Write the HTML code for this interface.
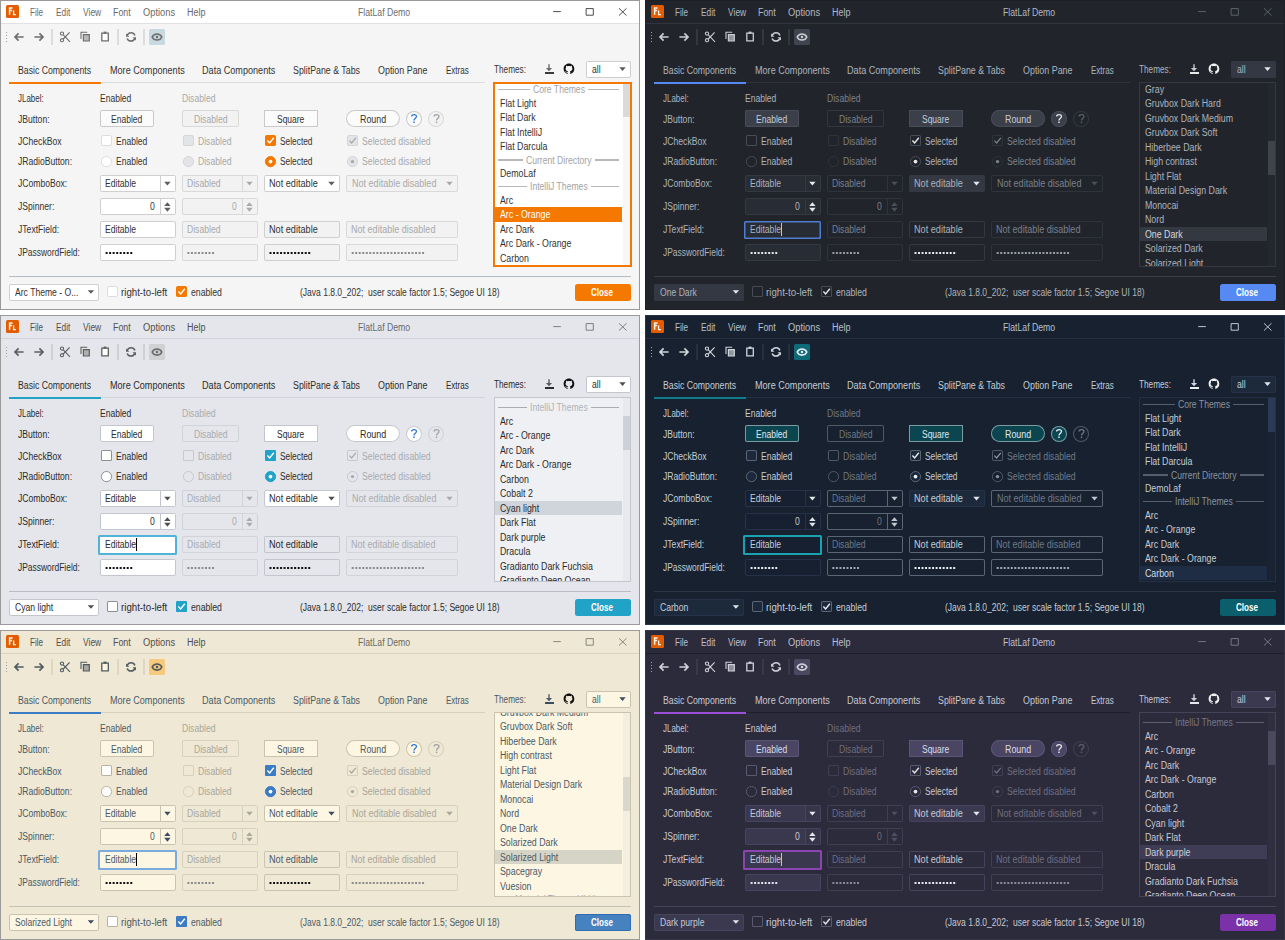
<!DOCTYPE html><html><head><meta charset="utf-8"><title>FlatLaf Demo</title><style>
html,body{margin:0;padding:0;background:#fff;}
body{width:1285px;height:940px;position:relative;overflow:hidden;font-family:"Liberation Sans",sans-serif;}
.p{position:absolute;width:640px;height:310px;overflow:hidden;}
.p div{position:absolute;}
.t{position:absolute;white-space:pre;line-height:1;transform-origin:0 0;}
.ov{position:absolute;left:0;top:0;}
</style></head><body><div class="p" style="left:0px;top:0px;background:#f5f5f5;"><div style="left:0.00px;top:0.00px;width:640.00px;height:24.00px;background:#ffffff;"></div><div style="left:0.00px;top:23.00px;width:640.00px;height:1.00px;background:#dfe1e5;"></div><div style="left:6.00px;top:5.00px;width:13.00px;height:13.00px;background:#e35d00;border-radius:1.5px;"></div><span class="t" style="left:30.40px;top:7.73px;font-size:10.0px;color:#6a6a6a;transform:scaleX(0.813033359193173);">File</span><span class="t" style="left:55.70px;top:7.73px;font-size:10.0px;color:#6a6a6a;transform:scaleX(0.8298875589408778);">Edit</span><span class="t" style="left:82.70px;top:7.73px;font-size:10.0px;color:#6a6a6a;transform:scaleX(0.8467577784239605);">View</span><span class="t" style="left:113.00px;top:7.73px;font-size:10.0px;color:#6a6a6a;transform:scaleX(0.8846544318625537);">Font</span><span class="t" style="left:142.90px;top:7.73px;font-size:10.0px;color:#6a6a6a;transform:scaleX(0.93148945817275);">Options</span><span class="t" style="left:187.00px;top:7.73px;font-size:10.0px;color:#6a6a6a;transform:scaleX(0.8995593374867041);">Help</span><span class="t" style="left:358.20px;top:7.73px;font-size:10.0px;color:#6c6c6c;transform:scaleX(0.868039465805847);">FlatLaf Demo</span><div style="left:6.00px;top:32.00px;width:1.00px;height:1.00px;background:#9b9b9b;"></div><div style="left:6.00px;top:35.00px;width:1.00px;height:1.00px;background:#9b9b9b;"></div><div style="left:6.00px;top:38.00px;width:1.00px;height:1.00px;background:#9b9b9b;"></div><div style="left:6.00px;top:41.00px;width:1.00px;height:1.00px;background:#9b9b9b;"></div><div style="left:51.05px;top:29.30px;width:1.50px;height:15.40px;background:#dcdcdc;"></div><div style="left:117.05px;top:29.30px;width:1.50px;height:15.40px;background:#dcdcdc;"></div><div style="left:143.15px;top:29.30px;width:1.50px;height:15.40px;background:#dcdcdc;"></div><div style="left:148.60px;top:29.10px;width:16.50px;height:15.80px;background:#c8d9df;border-radius:1.5px;"></div><div style="left:9.00px;top:82.00px;width:476.00px;height:1.00px;background:#dcdde0;"></div><div style="left:9.00px;top:82.00px;width:92.00px;height:2.00px;background:#f57900;"></div><span class="t" style="left:18.10px;top:66.23px;font-size:10.0px;color:#333333;transform:scaleX(0.8698080539161841);">Basic Components</span><span class="t" style="left:109.60px;top:66.23px;font-size:10.0px;color:#333333;transform:scaleX(0.9081549303801075);">More Components</span><span class="t" style="left:202.00px;top:66.23px;font-size:10.0px;color:#333333;transform:scaleX(0.9094821736685988);">Data Components</span><span class="t" style="left:292.90px;top:66.23px;font-size:10.0px;color:#333333;transform:scaleX(0.881887172737182);">SplitPane &amp; Tabs</span><span class="t" style="left:377.80px;top:66.23px;font-size:10.0px;color:#333333;transform:scaleX(0.8904128840046094);">Option Pane</span><span class="t" style="left:445.50px;top:66.23px;font-size:10.0px;color:#333333;transform:scaleX(0.8010145007443348);">Extras</span><span class="t" style="left:494.30px;top:65.03px;font-size:10.0px;color:#333333;transform:scaleX(0.8226551516368749);">Themes:</span><div style="left:544.50px;top:72.10px;width:9.10px;height:1.60px;background:#3a3a3a;"></div><div style="left:586.00px;top:61.00px;width:45.00px;height:17.00px;background:#ffffff;box-shadow:inset 0 0 0 1px #cfcfcf;border-radius:2px;"></div><span class="t" style="left:591.80px;top:64.83px;font-size:10.0px;color:#333333;transform:scaleX(0.86);">all</span><div style="left:494px;top:82px;width:137px;height:185px;background:#ffffff;overflow:hidden;"><div style="left:1px;top:125.40px;width:127px;height:14.5px;background:#f57900;"></div><div style="left:4.00px;top:6.95px;width:31.53px;height:1.4px;background:#b8b8b8;"></div><div style="left:93.87px;top:6.95px;width:31.53px;height:1.4px;background:#b8b8b8;"></div><span class="t" style="left:38.73px;top:3.29px;font-size:10.0px;color:#a3a3a3;transform:scaleX(0.86);">Core Themes</span><span class="t" style="left:5.70px;top:16.84px;font-size:10.0px;color:#333333;transform:scaleX(0.88);">Flat Light</span><span class="t" style="left:5.70px;top:31.34px;font-size:10.0px;color:#333333;transform:scaleX(0.88);">Flat Dark</span><span class="t" style="left:5.70px;top:45.83px;font-size:10.0px;color:#333333;transform:scaleX(0.88);">Flat IntelliJ</span><span class="t" style="left:5.70px;top:60.33px;font-size:10.0px;color:#333333;transform:scaleX(0.88);">Flat Darcula</span><div style="left:4.00px;top:77.25px;width:24.77px;height:1.4px;background:#b8b8b8;"></div><div style="left:100.63px;top:77.25px;width:24.77px;height:1.4px;background:#b8b8b8;"></div><span class="t" style="left:31.97px;top:73.59px;font-size:10.0px;color:#a3a3a3;transform:scaleX(0.86);">Current Directory</span><span class="t" style="left:5.70px;top:87.13px;font-size:10.0px;color:#333333;transform:scaleX(0.88);">DemoLaf</span><div style="left:4.00px;top:104.05px;width:28.66px;height:1.4px;background:#b8b8b8;"></div><div style="left:96.74px;top:104.05px;width:28.66px;height:1.4px;background:#b8b8b8;"></div><span class="t" style="left:35.86px;top:100.39px;font-size:10.0px;color:#a3a3a3;transform:scaleX(0.86);">IntelliJ Themes</span><span class="t" style="left:5.70px;top:113.93px;font-size:10.0px;color:#333333;transform:scaleX(0.88);">Arc</span><span class="t" style="left:5.70px;top:128.43px;font-size:10.0px;color:#ffffff;transform:scaleX(0.88);">Arc - Orange</span><span class="t" style="left:5.70px;top:142.93px;font-size:10.0px;color:#333333;transform:scaleX(0.88);">Arc Dark</span><span class="t" style="left:5.70px;top:157.43px;font-size:10.0px;color:#333333;transform:scaleX(0.88);">Arc Dark - Orange</span><span class="t" style="left:5.70px;top:171.93px;font-size:10.0px;color:#333333;transform:scaleX(0.88);">Carbon</span><span class="t" style="left:5.70px;top:186.43px;font-size:10.0px;color:#333333;transform:scaleX(0.88);">Cobalt 2</span><span class="t" style="left:5.70px;top:200.93px;font-size:10.0px;color:#333333;transform:scaleX(0.88);">Cyan light</span><div style="left:128.5px;top:1px;width:8px;height:183px;background:#f7f7f7;"></div><div style="left:128.5px;top:1.40px;width:7.5px;height:34px;background:#dadada;"></div></div><div style="left:493.00px;top:82.00px;width:139.00px;height:185.00px;box-shadow:inset 0 0 0 2px #f57900;"></div><span class="t" style="left:17.50px;top:94.23px;font-size:10.0px;color:#333333;transform:scaleX(0.7939523163403761);">JLabel:</span><span class="t" style="left:17.50px;top:114.73px;font-size:10.0px;color:#333333;transform:scaleX(0.86);">JButton:</span><span class="t" style="left:17.50px;top:136.73px;font-size:10.0px;color:#333333;transform:scaleX(0.86);">JCheckBox</span><span class="t" style="left:17.50px;top:157.23px;font-size:10.0px;color:#333333;transform:scaleX(0.86);">JRadioButton:</span><span class="t" style="left:17.50px;top:179.23px;font-size:10.0px;color:#333333;transform:scaleX(0.86);">JComboBox:</span><span class="t" style="left:17.50px;top:202.23px;font-size:10.0px;color:#333333;transform:scaleX(0.86);">JSpinner:</span><span class="t" style="left:17.50px;top:225.23px;font-size:10.0px;color:#333333;transform:scaleX(0.86);">JTextField:</span><span class="t" style="left:17.50px;top:248.23px;font-size:10.0px;color:#333333;transform:scaleX(0.8424640027264206);">JPasswordField:</span><span class="t" style="left:99.70px;top:94.23px;font-size:10.0px;color:#333333;transform:scaleX(0.8529336626075109);">Enabled</span><span class="t" style="left:181.90px;top:94.23px;font-size:10.0px;color:#a9a9a9;transform:scaleX(0.86);">Disabled</span><div style="left:100.00px;top:110.00px;width:54.00px;height:17.00px;background:#fbfbfc;box-shadow:inset 0 0 0 1px #c9c9c9;border-radius:2px;"></div><span class="t" style="left:111.10px;top:114.73px;font-size:10.0px;color:#333333;transform:scaleX(0.8529336626075109);">Enabled</span><div style="left:182.00px;top:110.00px;width:57.00px;height:17.00px;background:#f2f2f2;box-shadow:inset 0 0 0 1px #d9d9d9;border-radius:2px;"></div><span class="t" style="left:193.52px;top:114.73px;font-size:10.0px;color:#a9a9a9;transform:scaleX(0.86);">Disabled</span><div style="left:264.00px;top:110.00px;width:54.00px;height:17.00px;background:#fbfbfc;box-shadow:inset 0 0 0 1px #c9c9c9;"></div><span class="t" style="left:277.05px;top:114.73px;font-size:10.0px;color:#333333;transform:scaleX(0.8466757123473542);">Square</span><div style="left:346.00px;top:110.00px;width:54.00px;height:17.00px;background:#fbfbfc;box-shadow:inset 0 0 0 1px #c9c9c9;border-radius:9px;"></div><span class="t" style="left:359.55px;top:114.73px;font-size:10.0px;color:#333333;transform:scaleX(0.8891717043164704);">Round</span><div style="left:406.00px;top:111.00px;width:16.00px;height:16.00px;background:#fbfbfc;box-shadow:inset 0 0 0 1px #c9c9c9;border-radius:8px;"></div><div style="left:428.00px;top:111.00px;width:16.00px;height:16.00px;background:#f2f2f2;box-shadow:inset 0 0 0 1px #d9d9d9;border-radius:8px;"></div><div style="left:101.00px;top:135.00px;width:11.00px;height:11.00px;background:#ffffff;box-shadow:inset 0 0 0 1px #dcdde0;border-radius:2.5px;"></div><span class="t" style="left:115.70px;top:136.73px;font-size:10.0px;color:#333333;transform:scaleX(0.8529336626075109);">Enabled</span><div style="left:183.00px;top:135.00px;width:11.00px;height:11.00px;background:#e3e4e7;box-shadow:inset 0 0 0 1px #d5d6d9;border-radius:2.5px;"></div><span class="t" style="left:198.00px;top:136.73px;font-size:10.0px;color:#a9a9a9;transform:scaleX(0.86);">Disabled</span><div style="left:265.00px;top:135.00px;width:11.00px;height:11.00px;background:#f57900;box-shadow:inset 0 0 0 1px #f57900;border-radius:2.5px;"></div><span class="t" style="left:279.70px;top:136.73px;font-size:10.0px;color:#333333;transform:scaleX(0.835173659907649);">Selected</span><div style="left:347.00px;top:135.00px;width:11.00px;height:11.00px;background:#e3e4e7;box-shadow:inset 0 0 0 1px #d5d6d9;border-radius:2.5px;"></div><span class="t" style="left:361.50px;top:136.73px;font-size:10.0px;color:#a9a9a9;transform:scaleX(0.870274335932861);">Selected disabled</span><span class="t" style="left:115.70px;top:157.23px;font-size:10.0px;color:#333333;transform:scaleX(0.8529336626075109);">Enabled</span><span class="t" style="left:198.00px;top:157.23px;font-size:10.0px;color:#a9a9a9;transform:scaleX(0.86);">Disabled</span><span class="t" style="left:279.70px;top:157.23px;font-size:10.0px;color:#333333;transform:scaleX(0.835173659907649);">Selected</span><span class="t" style="left:361.50px;top:157.23px;font-size:10.0px;color:#a9a9a9;transform:scaleX(0.870274335932861);">Selected disabled</span><div style="left:100.00px;top:175.00px;width:76.00px;height:17.00px;background:#ffffff;box-shadow:inset 0 0 0 1px #cfcfcf;border-radius:2px;"></div><div style="left:160.00px;top:176.00px;width:15.00px;height:15.00px;background:#ffffff;"></div><div style="left:160.00px;top:176.00px;width:1.00px;height:15.00px;background:#cfcfcf;"></div><span class="t" style="left:105.00px;top:179.23px;font-size:10.0px;color:#333333;transform:scaleX(0.8606390798633633);">Editable</span><div style="left:182.00px;top:175.00px;width:76.00px;height:17.00px;background:#f2f2f2;box-shadow:inset 0 0 0 1px #d9d9d9;border-radius:2px;"></div><div style="left:242.00px;top:176.00px;width:15.00px;height:15.00px;background:#f2f2f2;"></div><div style="left:242.00px;top:176.00px;width:1.00px;height:15.00px;background:#d9d9d9;"></div><span class="t" style="left:187.20px;top:179.23px;font-size:10.0px;color:#a9a9a9;transform:scaleX(0.86);">Disabled</span><div style="left:264.00px;top:175.00px;width:76.00px;height:17.00px;background:#ffffff;box-shadow:inset 0 0 0 1px #cfcfcf;border-radius:2px;"></div><span class="t" style="left:269.40px;top:179.23px;font-size:10.0px;color:#333333;transform:scaleX(0.9144463313228318);">Not editable</span><div style="left:346.00px;top:175.00px;width:112.00px;height:17.00px;background:#f2f2f2;box-shadow:inset 0 0 0 1px #d9d9d9;border-radius:2px;"></div><span class="t" style="left:351.60px;top:179.23px;font-size:10.0px;color:#a9a9a9;transform:scaleX(0.9037158488230078);">Not editable disabled</span><div style="left:100.00px;top:198.00px;width:76.00px;height:17.00px;background:#ffffff;box-shadow:inset 0 0 0 1px #cfcfcf;border-radius:2px;"></div><div style="left:160.00px;top:199.00px;width:15.00px;height:15.00px;background:#ffffff;"></div><div style="left:160.00px;top:199.00px;width:1.00px;height:15.00px;background:#cfcfcf;"></div><span class="t" style="left:149.62px;top:202.23px;font-size:10.0px;color:#333333;transform:scaleX(0.86);">0</span><div style="left:182.00px;top:198.00px;width:76.00px;height:17.00px;background:#f2f2f2;box-shadow:inset 0 0 0 1px #d9d9d9;border-radius:2px;"></div><div style="left:242.00px;top:199.00px;width:15.00px;height:15.00px;background:#f2f2f2;"></div><div style="left:242.00px;top:199.00px;width:1.00px;height:15.00px;background:#d9d9d9;"></div><span class="t" style="left:231.62px;top:202.23px;font-size:10.0px;color:#a9a9a9;transform:scaleX(0.86);">0</span><div style="left:100.00px;top:221.00px;width:76.00px;height:17.00px;background:#ffffff;box-shadow:inset 0 0 0 1px #cfcfcf;border-radius:2px;"></div><span class="t" style="left:105.10px;top:225.23px;font-size:10.0px;color:#333333;transform:scaleX(0.8606390798633633);">Editable</span><div style="left:182.00px;top:221.00px;width:76.00px;height:17.00px;background:#f2f2f2;box-shadow:inset 0 0 0 1px #d9d9d9;border-radius:2px;"></div><span class="t" style="left:187.20px;top:225.23px;font-size:10.0px;color:#a9a9a9;transform:scaleX(0.86);">Disabled</span><div style="left:264.00px;top:221.00px;width:76.00px;height:17.00px;background:#f2f2f2;box-shadow:inset 0 0 0 1px #cfcfcf;border-radius:2px;"></div><span class="t" style="left:269.20px;top:225.23px;font-size:10.0px;color:#333333;transform:scaleX(0.9144463313228318);">Not editable</span><div style="left:346.00px;top:221.00px;width:112.00px;height:17.00px;background:#f2f2f2;box-shadow:inset 0 0 0 1px #d9d9d9;border-radius:2px;"></div><span class="t" style="left:351.20px;top:225.23px;font-size:10.0px;color:#a9a9a9;transform:scaleX(0.9037158488230078);">Not editable disabled</span><div style="left:100.00px;top:244.00px;width:76.00px;height:17.00px;background:#ffffff;box-shadow:inset 0 0 0 1px #cfcfcf;border-radius:2px;"></div><div style="left:182.00px;top:244.00px;width:76.00px;height:17.00px;background:#f2f2f2;box-shadow:inset 0 0 0 1px #d9d9d9;border-radius:2px;"></div><div style="left:264.00px;top:244.00px;width:76.00px;height:17.00px;background:#f2f2f2;box-shadow:inset 0 0 0 1px #cfcfcf;border-radius:2px;"></div><div style="left:346.00px;top:244.00px;width:112.00px;height:17.00px;background:#f2f2f2;box-shadow:inset 0 0 0 1px #d9d9d9;border-radius:2px;"></div><div style="left:9.00px;top:276.00px;width:622.00px;height:1.00px;background:#b4bcc4;"></div><div style="left:9.00px;top:284.00px;width:90.00px;height:17.00px;background:#ffffff;box-shadow:inset 0 0 0 1px #cfcfcf;border-radius:2px;"></div><span class="t" style="left:14.90px;top:288.23px;font-size:10.0px;color:#333333;transform:scaleX(0.86);">Arc Theme - O...</span><div style="left:107.00px;top:286.00px;width:11.00px;height:11.00px;background:#ffffff;box-shadow:inset 0 0 0 1px #dcdde0;border-radius:2.5px;"></div><span class="t" style="left:121.20px;top:288.23px;font-size:10.0px;color:#333333;transform:scaleX(0.9688409350989047);">right-to-left</span><div style="left:176.00px;top:286.00px;width:11.00px;height:11.00px;background:#f57900;box-shadow:inset 0 0 0 1px #f57900;border-radius:2.5px;"></div><span class="t" style="left:190.60px;top:288.23px;font-size:10.0px;color:#333333;transform:scaleX(0.8682824025289778);">enabled</span><span class="t" style="left:299.50px;top:288.23px;font-size:10.0px;color:#333333;transform:scaleX(0.8505195843325339);">(Java 1.8.0_202;  user scale factor 1.5; Segoe UI 18)</span><div style="left:575.00px;top:284.00px;width:56.00px;height:17.00px;background:#f57900;border-radius:2.5px;"></div><span class="t" style="left:591.40px;top:288.23px;font-size:10.0px;color:#ffffff;transform:scaleX(0.8116141619326332);font-weight:bold;">Close</span><div style="left:0.00px;top:0.00px;width:640.00px;height:310.00px;box-shadow:inset 0 0 0 1px #9a9a9a;"></div><svg class="ov" width="640" height="310" viewBox="0 0 640 310"><path d="M9.6 14.8 V7.9 H12.6 M9.6 10.6 H12.1" fill="none" stroke="#fff4ea" stroke-width="1.5" /><path d="M13.6 10.4 V14.6 H15.9" fill="none" stroke="#fff4ea" stroke-width="1.3" /><path d="M553.2 11.6 H560.8" fill="none" stroke="#4a4a4a" stroke-width="1" /><path d="M586.1 8.6 H593.3 V15.2 H586.1 Z" fill="none" stroke="#4a4a4a" stroke-width="1" /><path d="M619 8.3 L626.5 15.5 M626.5 8.3 L619 15.5" fill="none" stroke="#4a4a4a" stroke-width="1" /><path d="M23.6 37 H15 M18.6 33.4 L15 37 L18.6 40.6" fill="none" stroke="#6e6e6e" stroke-width="1.7" /><path d="M34.4 37 H43 M39.4 33.4 L43 37 L39.4 40.6" fill="none" stroke="#6e6e6e" stroke-width="1.7" /><path d="M62 33.6 m-1.6 0 a1.6 1.6 0 1 0 3.2 0 a1.6 1.6 0 1 0 -3.2 0" fill="none" stroke="#6e6e6e" stroke-width="1.1" /><path d="M62 40.2 m-1.6 0 a1.6 1.6 0 1 0 3.2 0 a1.6 1.6 0 1 0 -3.2 0" fill="none" stroke="#6e6e6e" stroke-width="1.1" /><path d="M63.3 34.8 L70 41.8 M63.3 39 L69.6 32.3" fill="none" stroke="#6e6e6e" stroke-width="1.1" /><path d="M81 39 V32.2 H87.2" fill="none" stroke="#6e6e6e" stroke-width="1.1" /><path d="M83.4 34.6 H89.3 V41 H83.4 Z" fill="#b9b9b9" stroke="#6e6e6e" stroke-width="1.2" /><path d="M101.8 33.2 H108.3 V40.9 H101.8 Z" fill="#ffffff" stroke="#6e6e6e" stroke-width="1.3" /><path d="M103.6 31.6 H106.5 V33.6 H103.6 Z" fill="#6e6e6e" /><path d="M134.9 35.4 A4.1 4.1 0 0 0 127.3 35.2 M127.1 38.4 A4.1 4.1 0 0 0 134.7 38.6" fill="none" stroke="#6e6e6e" stroke-width="1.5" /><path d="M126 33.4 V36.8 H129.4 Z" fill="#6e6e6e" /><path d="M136 40.6 V37.2 H132.6 Z" fill="#6e6e6e" /><path d="M152.2 37 C153.9 32.9 160.1 32.9 161.8 37 C160.1 41.1 153.9 41.1 152.2 37 Z" fill="none" stroke="#6e6e6e" stroke-width="1.6" /><path d="M157 37 m-1.25 0 a1.25 1.25 0 1 0 2.5 0 a1.25 1.25 0 1 0 -2.5 0" fill="#6e6e6e" /><path d="M549 64.2 V68.8" fill="none" stroke="#6a6a6a" stroke-width="1.4" /><path d="M545.9 68.1 H552.1 L549 71.2 Z" fill="#6a6a6a" /><path d="M8 0C3.58 0 0 3.58 0 8c0 3.54 2.29 6.53 5.47 7.59.4.07.55-.17.55-.38 0-.19-.01-.82-.01-1.49-2.01.37-2.53-.49-2.69-.94-.09-.23-.48-.94-.82-1.13-.28-.15-.68-.52-.01-.53.63-.01 1.08.58 1.23.82.72 1.21 1.87.87 2.33.66.07-.52.28-.87.51-1.07-1.78-.2-3.640-.89-3.64-3.95 0-.87.31-1.59.82-2.15-.08-.2-.36-1.020.08-2.12 0 0 .67-.21 2.2.82.64-.18 1.32-.27 2-.27.68 0 1.36.09 2 .27 1.53-1.04 2.2-.82 2.2-.82.44 1.1.16 1.92.08 2.12.51.56.82 1.27.82 2.15 0 3.07-1.87 3.75-3.65 3.95.29.25.54.73.54 1.48 0 1.07-.01 1.93-.01 2.200 0 .21.15.46.55.38A8.013 8.013 0 0016 8c0-4.42-3.58-8-8-8z" fill="#111111" transform="translate(563.6 63.5) scale(0.67)"/><path d="M619.30 67.35 H625.70 L622.50 70.95 Z" fill="#5c5c5c" /><path d="M411.60 116.50 C411.60 114.10 416.50 114.10 416.50 116.60 C416.50 118.30 414.00 118.40 414.00 120.60" fill="none" stroke="#2f7ad6" stroke-width="1.3" /><path d="M413.25 121.60 h1.5 v1.5 h-1.5 Z" fill="#2f7ad6" /><path d="M434.10 116.50 C434.10 114.10 439.00 114.10 439.00 116.60 C439.00 118.30 436.50 118.40 436.50 120.60" fill="none" stroke="#a0a0a0" stroke-width="1.3" /><path d="M435.75 121.60 h1.5 v1.5 h-1.5 Z" fill="#a0a0a0" /><path d="M267.4 140.6 L269.6 142.9 L273.8 137.8" fill="none" stroke="#ffffff" stroke-width="1.4" /><path d="M349.4 140.6 L351.6 142.9 L355.8 137.8" fill="none" stroke="#a8a8a8" stroke-width="1.3" /><circle cx="106.5" cy="161.6" r="5.1" fill="#ffffff" stroke="#dcdde0" stroke-width="1"/><circle cx="188.5" cy="161.6" r="5.1" fill="#e3e4e7" stroke="#d5d6d9" stroke-width="1"/><circle cx="270.5" cy="161.6" r="5.1" fill="#f57900" stroke="#f57900" stroke-width="1"/><circle cx="270.5" cy="161.6" r="1.9" fill="#ffffff"/><circle cx="352.5" cy="161.6" r="5.1" fill="#e3e4e7" stroke="#d5d6d9" stroke-width="1"/><circle cx="352.5" cy="161.6" r="1.7" fill="#a8a8a8"/><path d="M164.20 181.80 H170.60 L167.40 185.40 Z" fill="#5c5c5c" /><path d="M246.30 181.80 H252.70 L249.50 185.40 Z" fill="#aaaaaa" /><path d="M328.30 181.80 H334.70 L331.50 185.40 Z" fill="#5c5c5c" /><path d="M446.30 181.80 H452.70 L449.50 185.40 Z" fill="#aaaaaa" /><path d="M164.20 206.1 H170.60 L167.40 202.3 Z" fill="#5c5c5c" /><path d="M164.20 207.8 H170.60 L167.40 211.7 Z" fill="#5c5c5c" /><path d="M246.20 206.1 H252.60 L249.40 202.3 Z" fill="#aaaaaa" /><path d="M246.20 207.8 H252.60 L249.40 211.7 Z" fill="#aaaaaa" /><path d="M105.60 252 h2 v2 h-2 Z M109.12 252 h2 v2 h-2 Z M112.64 252 h2 v2 h-2 Z M116.16 252 h2 v2 h-2 Z M119.68 252 h2 v2 h-2 Z M123.20 252 h2 v2 h-2 Z M126.72 252 h2 v2 h-2 Z M130.24 252 h2 v2 h-2 Z " fill="#111111" /><path d="M187.40 252 h2 v2 h-2 Z M190.92 252 h2 v2 h-2 Z M194.44 252 h2 v2 h-2 Z M197.96 252 h2 v2 h-2 Z M201.48 252 h2 v2 h-2 Z M205.00 252 h2 v2 h-2 Z M208.52 252 h2 v2 h-2 Z M212.04 252 h2 v2 h-2 Z " fill="#8c8c8c" /><path d="M269.50 252 h2 v2 h-2 Z M273.02 252 h2 v2 h-2 Z M276.54 252 h2 v2 h-2 Z M280.06 252 h2 v2 h-2 Z M283.58 252 h2 v2 h-2 Z M287.10 252 h2 v2 h-2 Z M290.62 252 h2 v2 h-2 Z M294.14 252 h2 v2 h-2 Z M297.66 252 h2 v2 h-2 Z M301.18 252 h2 v2 h-2 Z M304.70 252 h2 v2 h-2 Z M308.22 252 h2 v2 h-2 Z " fill="#111111" /><path d="M351.70 252 h2 v2 h-2 Z M355.22 252 h2 v2 h-2 Z M358.74 252 h2 v2 h-2 Z M362.26 252 h2 v2 h-2 Z M365.78 252 h2 v2 h-2 Z M369.30 252 h2 v2 h-2 Z M372.82 252 h2 v2 h-2 Z M376.34 252 h2 v2 h-2 Z M379.86 252 h2 v2 h-2 Z M383.38 252 h2 v2 h-2 Z M386.90 252 h2 v2 h-2 Z M390.42 252 h2 v2 h-2 Z M393.94 252 h2 v2 h-2 Z M397.46 252 h2 v2 h-2 Z M400.98 252 h2 v2 h-2 Z M404.50 252 h2 v2 h-2 Z M408.02 252 h2 v2 h-2 Z M411.54 252 h2 v2 h-2 Z M415.06 252 h2 v2 h-2 Z M418.58 252 h2 v2 h-2 Z M422.10 252 h2 v2 h-2 Z " fill="#8c8c8c" /><path d="M87.70 290.20 H94.10 L90.90 293.80 Z" fill="#5c5c5c" /><path d="M178.4 291.6 L180.6 293.9 L184.8 288.8" fill="none" stroke="#ffffff" stroke-width="1.4" /></svg></div><div class="p" style="left:645px;top:0px;background:#21252b;"><div style="left:0.00px;top:0.00px;width:640.00px;height:24.00px;background:#21252b;"></div><div style="left:0.00px;top:23.00px;width:640.00px;height:1.00px;background:#31353d;"></div><div style="left:6.00px;top:5.00px;width:13.00px;height:13.00px;background:#e35d00;border-radius:1.5px;"></div><span class="t" style="left:30.40px;top:7.73px;font-size:10.0px;color:#b2b7c0;transform:scaleX(0.813033359193173);">File</span><span class="t" style="left:55.70px;top:7.73px;font-size:10.0px;color:#b2b7c0;transform:scaleX(0.8298875589408778);">Edit</span><span class="t" style="left:82.70px;top:7.73px;font-size:10.0px;color:#b2b7c0;transform:scaleX(0.8467577784239605);">View</span><span class="t" style="left:113.00px;top:7.73px;font-size:10.0px;color:#b2b7c0;transform:scaleX(0.8846544318625537);">Font</span><span class="t" style="left:142.90px;top:7.73px;font-size:10.0px;color:#b2b7c0;transform:scaleX(0.93148945817275);">Options</span><span class="t" style="left:187.00px;top:7.73px;font-size:10.0px;color:#b2b7c0;transform:scaleX(0.8995593374867041);">Help</span><span class="t" style="left:358.20px;top:7.73px;font-size:10.0px;color:#b2b7c0;transform:scaleX(0.868039465805847);">FlatLaf Demo</span><div style="left:6.00px;top:32.00px;width:1.00px;height:1.00px;background:#9a9ea6;"></div><div style="left:6.00px;top:35.00px;width:1.00px;height:1.00px;background:#9a9ea6;"></div><div style="left:6.00px;top:38.00px;width:1.00px;height:1.00px;background:#9a9ea6;"></div><div style="left:6.00px;top:41.00px;width:1.00px;height:1.00px;background:#9a9ea6;"></div><div style="left:51.05px;top:29.30px;width:1.50px;height:15.40px;background:#33373e;"></div><div style="left:117.05px;top:29.30px;width:1.50px;height:15.40px;background:#33373e;"></div><div style="left:143.15px;top:29.30px;width:1.50px;height:15.40px;background:#33373e;"></div><div style="left:148.60px;top:29.10px;width:16.50px;height:15.80px;background:#3f444e;border-radius:1.5px;"></div><div style="left:9.00px;top:82.00px;width:476.00px;height:1.00px;background:#2f333a;"></div><div style="left:9.00px;top:82.00px;width:92.00px;height:2.00px;background:#568af2;"></div><span class="t" style="left:18.10px;top:66.23px;font-size:10.0px;color:#adb3bd;transform:scaleX(0.8698080539161841);">Basic Components</span><span class="t" style="left:109.60px;top:66.23px;font-size:10.0px;color:#adb3bd;transform:scaleX(0.9081549303801075);">More Components</span><span class="t" style="left:202.00px;top:66.23px;font-size:10.0px;color:#adb3bd;transform:scaleX(0.9094821736685988);">Data Components</span><span class="t" style="left:292.90px;top:66.23px;font-size:10.0px;color:#adb3bd;transform:scaleX(0.881887172737182);">SplitPane &amp; Tabs</span><span class="t" style="left:377.80px;top:66.23px;font-size:10.0px;color:#adb3bd;transform:scaleX(0.8904128840046094);">Option Pane</span><span class="t" style="left:445.50px;top:66.23px;font-size:10.0px;color:#adb3bd;transform:scaleX(0.8010145007443348);">Extras</span><span class="t" style="left:494.30px;top:65.03px;font-size:10.0px;color:#adb3bd;transform:scaleX(0.8226551516368749);">Themes:</span><div style="left:544.50px;top:72.10px;width:9.10px;height:1.60px;background:#e6e8ea;"></div><div style="left:586.00px;top:61.00px;width:45.00px;height:17.00px;background:#343842;box-shadow:inset 0 0 0 1px #333841;border-radius:2px;"></div><span class="t" style="left:591.80px;top:64.83px;font-size:10.0px;color:#adb3bd;transform:scaleX(0.86);">all</span><div style="left:494px;top:82px;width:137px;height:185px;background:#21252b;overflow:hidden;"><div style="left:1px;top:144.70px;width:127px;height:14.5px;background:#333841;"></div><span class="t" style="left:5.70px;top:-11.76px;font-size:10.0px;color:#adb3bd;transform:scaleX(0.88);">Gradianto Nature Green</span><span class="t" style="left:5.70px;top:2.74px;font-size:10.0px;color:#adb3bd;transform:scaleX(0.88);">Gray</span><span class="t" style="left:5.70px;top:17.24px;font-size:10.0px;color:#adb3bd;transform:scaleX(0.88);">Gruvbox Dark Hard</span><span class="t" style="left:5.70px;top:31.74px;font-size:10.0px;color:#adb3bd;transform:scaleX(0.88);">Gruvbox Dark Medium</span><span class="t" style="left:5.70px;top:46.24px;font-size:10.0px;color:#adb3bd;transform:scaleX(0.88);">Gruvbox Dark Soft</span><span class="t" style="left:5.70px;top:60.74px;font-size:10.0px;color:#adb3bd;transform:scaleX(0.88);">Hiberbee Dark</span><span class="t" style="left:5.70px;top:75.24px;font-size:10.0px;color:#adb3bd;transform:scaleX(0.88);">High contrast</span><span class="t" style="left:5.70px;top:89.74px;font-size:10.0px;color:#adb3bd;transform:scaleX(0.88);">Light Flat</span><span class="t" style="left:5.70px;top:104.24px;font-size:10.0px;color:#adb3bd;transform:scaleX(0.88);">Material Design Dark</span><span class="t" style="left:5.70px;top:118.74px;font-size:10.0px;color:#adb3bd;transform:scaleX(0.88);">Monocai</span><span class="t" style="left:5.70px;top:133.24px;font-size:10.0px;color:#adb3bd;transform:scaleX(0.88);">Nord</span><span class="t" style="left:5.70px;top:147.74px;font-size:10.0px;color:#d5d9df;transform:scaleX(0.88);">One Dark</span><span class="t" style="left:5.70px;top:162.24px;font-size:10.0px;color:#adb3bd;transform:scaleX(0.88);">Solarized Dark</span><span class="t" style="left:5.70px;top:176.74px;font-size:10.0px;color:#adb3bd;transform:scaleX(0.88);">Solarized Light</span><span class="t" style="left:5.70px;top:191.24px;font-size:10.0px;color:#adb3bd;transform:scaleX(0.88);">Spacegray</span><div style="left:128.5px;top:1px;width:8px;height:183px;background:#23272e;"></div><div style="left:128.5px;top:58.58px;width:7.5px;height:34px;background:#3e434c;"></div></div><div style="left:494.00px;top:82.00px;width:137.00px;height:185.00px;box-shadow:inset 0 0 0 1px #333841;"></div><span class="t" style="left:17.50px;top:94.23px;font-size:10.0px;color:#adb3bd;transform:scaleX(0.7939523163403761);">JLabel:</span><span class="t" style="left:17.50px;top:114.73px;font-size:10.0px;color:#adb3bd;transform:scaleX(0.86);">JButton:</span><span class="t" style="left:17.50px;top:136.73px;font-size:10.0px;color:#adb3bd;transform:scaleX(0.86);">JCheckBox</span><span class="t" style="left:17.50px;top:157.23px;font-size:10.0px;color:#adb3bd;transform:scaleX(0.86);">JRadioButton:</span><span class="t" style="left:17.50px;top:179.23px;font-size:10.0px;color:#adb3bd;transform:scaleX(0.86);">JComboBox:</span><span class="t" style="left:17.50px;top:202.23px;font-size:10.0px;color:#adb3bd;transform:scaleX(0.86);">JSpinner:</span><span class="t" style="left:17.50px;top:225.23px;font-size:10.0px;color:#adb3bd;transform:scaleX(0.86);">JTextField:</span><span class="t" style="left:17.50px;top:248.23px;font-size:10.0px;color:#adb3bd;transform:scaleX(0.8424640027264206);">JPasswordField:</span><span class="t" style="left:99.70px;top:94.23px;font-size:10.0px;color:#adb3bd;transform:scaleX(0.8529336626075109);">Enabled</span><span class="t" style="left:181.90px;top:94.23px;font-size:10.0px;color:#7b808a;transform:scaleX(0.86);">Disabled</span><div style="left:100.00px;top:110.00px;width:54.00px;height:17.00px;background:#3a3f4a;box-shadow:inset 0 0 0 1px #474c57;border-radius:2px;"></div><span class="t" style="left:111.10px;top:114.73px;font-size:10.0px;color:#c8ccd3;transform:scaleX(0.8529336626075109);">Enabled</span><div style="left:182.00px;top:110.00px;width:57.00px;height:17.00px;background:#21252b;box-shadow:inset 0 0 0 1px #333840;border-radius:2px;"></div><span class="t" style="left:193.52px;top:114.73px;font-size:10.0px;color:#7b808a;transform:scaleX(0.86);">Disabled</span><div style="left:264.00px;top:110.00px;width:54.00px;height:17.00px;background:#3a3f4a;box-shadow:inset 0 0 0 1px #474c57;"></div><span class="t" style="left:277.05px;top:114.73px;font-size:10.0px;color:#c8ccd3;transform:scaleX(0.8466757123473542);">Square</span><div style="left:346.00px;top:110.00px;width:54.00px;height:17.00px;background:#3a3f4a;box-shadow:inset 0 0 0 1px #474c57;border-radius:9px;"></div><span class="t" style="left:359.55px;top:114.73px;font-size:10.0px;color:#c8ccd3;transform:scaleX(0.8891717043164704);">Round</span><div style="left:406.00px;top:111.00px;width:16.00px;height:16.00px;background:#3a3f4a;box-shadow:inset 0 0 0 1px #474c57;border-radius:8px;"></div><div style="left:428.00px;top:111.00px;width:16.00px;height:16.00px;background:#21252b;box-shadow:inset 0 0 0 1px #333840;border-radius:8px;"></div><div style="left:101.00px;top:135.00px;width:11.00px;height:11.00px;background:#21252b;box-shadow:inset 0 0 0 1px #464b54;border-radius:1.5px;"></div><span class="t" style="left:115.70px;top:136.73px;font-size:10.0px;color:#adb3bd;transform:scaleX(0.8529336626075109);">Enabled</span><div style="left:183.00px;top:135.00px;width:11.00px;height:11.00px;background:#21252b;box-shadow:inset 0 0 0 1px #2f333a;border-radius:1.5px;"></div><span class="t" style="left:198.00px;top:136.73px;font-size:10.0px;color:#7b808a;transform:scaleX(0.86);">Disabled</span><div style="left:265.00px;top:135.00px;width:11.00px;height:11.00px;background:#21252b;box-shadow:inset 0 0 0 1px #464b54;border-radius:1.5px;"></div><span class="t" style="left:279.70px;top:136.73px;font-size:10.0px;color:#adb3bd;transform:scaleX(0.835173659907649);">Selected</span><div style="left:347.00px;top:135.00px;width:11.00px;height:11.00px;background:#21252b;box-shadow:inset 0 0 0 1px #2f333a;border-radius:1.5px;"></div><span class="t" style="left:361.50px;top:136.73px;font-size:10.0px;color:#7b808a;transform:scaleX(0.870274335932861);">Selected disabled</span><span class="t" style="left:115.70px;top:157.23px;font-size:10.0px;color:#adb3bd;transform:scaleX(0.8529336626075109);">Enabled</span><span class="t" style="left:198.00px;top:157.23px;font-size:10.0px;color:#7b808a;transform:scaleX(0.86);">Disabled</span><span class="t" style="left:279.70px;top:157.23px;font-size:10.0px;color:#adb3bd;transform:scaleX(0.835173659907649);">Selected</span><span class="t" style="left:361.50px;top:157.23px;font-size:10.0px;color:#7b808a;transform:scaleX(0.870274335932861);">Selected disabled</span><div style="left:100.00px;top:175.00px;width:76.00px;height:17.00px;background:#282c34;box-shadow:inset 0 0 0 1px #333841;border-radius:2px;"></div><div style="left:160.00px;top:176.00px;width:15.00px;height:15.00px;background:#282c34;"></div><div style="left:160.00px;top:176.00px;width:1.00px;height:15.00px;background:#333841;"></div><span class="t" style="left:105.00px;top:179.23px;font-size:10.0px;color:#adb3bd;transform:scaleX(0.8606390798633633);">Editable</span><div style="left:182.00px;top:175.00px;width:76.00px;height:17.00px;background:#21252b;box-shadow:inset 0 0 0 1px #2f333a;border-radius:2px;"></div><div style="left:242.00px;top:176.00px;width:15.00px;height:15.00px;background:#21252b;"></div><div style="left:242.00px;top:176.00px;width:1.00px;height:15.00px;background:#2f333a;"></div><span class="t" style="left:187.20px;top:179.23px;font-size:10.0px;color:#7b808a;transform:scaleX(0.86);">Disabled</span><div style="left:264.00px;top:175.00px;width:76.00px;height:17.00px;background:#343842;box-shadow:inset 0 0 0 1px #333841;border-radius:2px;"></div><span class="t" style="left:269.40px;top:179.23px;font-size:10.0px;color:#adb3bd;transform:scaleX(0.9144463313228318);">Not editable</span><div style="left:346.00px;top:175.00px;width:112.00px;height:17.00px;background:#21252b;box-shadow:inset 0 0 0 1px #2f333a;border-radius:2px;"></div><span class="t" style="left:351.60px;top:179.23px;font-size:10.0px;color:#7b808a;transform:scaleX(0.9037158488230078);">Not editable disabled</span><div style="left:100.00px;top:198.00px;width:76.00px;height:17.00px;background:#282c34;box-shadow:inset 0 0 0 1px #333841;border-radius:2px;"></div><div style="left:160.00px;top:199.00px;width:15.00px;height:15.00px;background:#282c34;"></div><div style="left:160.00px;top:199.00px;width:1.00px;height:15.00px;background:#333841;"></div><span class="t" style="left:149.62px;top:202.23px;font-size:10.0px;color:#adb3bd;transform:scaleX(0.86);">0</span><div style="left:182.00px;top:198.00px;width:76.00px;height:17.00px;background:#21252b;box-shadow:inset 0 0 0 1px #2f333a;border-radius:2px;"></div><div style="left:242.00px;top:199.00px;width:15.00px;height:15.00px;background:#21252b;"></div><div style="left:242.00px;top:199.00px;width:1.00px;height:15.00px;background:#2f333a;"></div><span class="t" style="left:231.62px;top:202.23px;font-size:10.0px;color:#7b808a;transform:scaleX(0.86);">0</span><div style="left:99.00px;top:221.00px;width:77.00px;height:18.00px;background:#282c34;box-shadow:inset 0 0 0 1.5px #4f7dd0;border-radius:1.5px;"></div><span class="t" style="left:105.10px;top:225.23px;font-size:10.0px;color:#adb3bd;transform:scaleX(0.8606390798633633);">Editable</span><div style="left:136.20px;top:223.40px;width:1.20px;height:12.60px;background:#c0c4ca;"></div><div style="left:182.00px;top:221.00px;width:76.00px;height:17.00px;background:#21252b;box-shadow:inset 0 0 0 1px #2f333a;border-radius:2px;"></div><span class="t" style="left:187.20px;top:225.23px;font-size:10.0px;color:#7b808a;transform:scaleX(0.86);">Disabled</span><div style="left:264.00px;top:221.00px;width:76.00px;height:17.00px;background:#21252b;box-shadow:inset 0 0 0 1px #333841;border-radius:2px;"></div><span class="t" style="left:269.20px;top:225.23px;font-size:10.0px;color:#adb3bd;transform:scaleX(0.9144463313228318);">Not editable</span><div style="left:346.00px;top:221.00px;width:112.00px;height:17.00px;background:#21252b;box-shadow:inset 0 0 0 1px #2f333a;border-radius:2px;"></div><span class="t" style="left:351.20px;top:225.23px;font-size:10.0px;color:#7b808a;transform:scaleX(0.9037158488230078);">Not editable disabled</span><div style="left:100.00px;top:244.00px;width:76.00px;height:17.00px;background:#282c34;box-shadow:inset 0 0 0 1px #333841;border-radius:2px;"></div><div style="left:182.00px;top:244.00px;width:76.00px;height:17.00px;background:#21252b;box-shadow:inset 0 0 0 1px #2f333a;border-radius:2px;"></div><div style="left:264.00px;top:244.00px;width:76.00px;height:17.00px;background:#21252b;box-shadow:inset 0 0 0 1px #333841;border-radius:2px;"></div><div style="left:346.00px;top:244.00px;width:112.00px;height:17.00px;background:#21252b;box-shadow:inset 0 0 0 1px #2f333a;border-radius:2px;"></div><div style="left:9.00px;top:276.00px;width:622.00px;height:1.00px;background:#3a3f48;"></div><div style="left:9.00px;top:284.00px;width:90.00px;height:17.00px;background:#343842;box-shadow:inset 0 0 0 1px #333841;border-radius:2px;"></div><span class="t" style="left:14.90px;top:288.23px;font-size:10.0px;color:#adb3bd;transform:scaleX(0.86);">One Dark</span><div style="left:107.00px;top:286.00px;width:11.00px;height:11.00px;background:#21252b;box-shadow:inset 0 0 0 1px #464b54;border-radius:1.5px;"></div><span class="t" style="left:121.20px;top:288.23px;font-size:10.0px;color:#adb3bd;transform:scaleX(0.9688409350989047);">right-to-left</span><div style="left:176.00px;top:286.00px;width:11.00px;height:11.00px;background:#21252b;box-shadow:inset 0 0 0 1px #464b54;border-radius:1.5px;"></div><span class="t" style="left:190.60px;top:288.23px;font-size:10.0px;color:#adb3bd;transform:scaleX(0.8682824025289778);">enabled</span><span class="t" style="left:299.50px;top:288.23px;font-size:10.0px;color:#adb3bd;transform:scaleX(0.8505195843325339);">(Java 1.8.0_202;  user scale factor 1.5; Segoe UI 18)</span><div style="left:575.00px;top:284.00px;width:56.00px;height:17.00px;background:#568af2;border-radius:2.5px;"></div><span class="t" style="left:591.40px;top:288.23px;font-size:10.0px;color:#ffffff;transform:scaleX(0.8116141619326332);font-weight:bold;">Close</span><div style="left:0.00px;top:0.00px;width:640.00px;height:310.00px;box-shadow:inset 0 0 0 1px #1d2025;"></div><svg class="ov" width="640" height="310" viewBox="0 0 640 310"><path d="M9.6 14.8 V7.9 H12.6 M9.6 10.6 H12.1" fill="none" stroke="#fff4ea" stroke-width="1.5" /><path d="M13.6 10.4 V14.6 H15.9" fill="none" stroke="#fff4ea" stroke-width="1.3" /><path d="M553.2 11.6 H560.8" fill="none" stroke="#5d626b" stroke-width="1" /><path d="M586.1 8.6 H593.3 V15.2 H586.1 Z" fill="none" stroke="#5d626b" stroke-width="1" /><path d="M619 8.3 L626.5 15.5 M626.5 8.3 L619 15.5" fill="none" stroke="#5d626b" stroke-width="1" /><path d="M23.6 37 H15 M18.6 33.4 L15 37 L18.6 40.6" fill="none" stroke="#c9ccd2" stroke-width="1.7" /><path d="M34.4 37 H43 M39.4 33.4 L43 37 L39.4 40.6" fill="none" stroke="#c9ccd2" stroke-width="1.7" /><path d="M62 33.6 m-1.6 0 a1.6 1.6 0 1 0 3.2 0 a1.6 1.6 0 1 0 -3.2 0" fill="none" stroke="#c9ccd2" stroke-width="1.1" /><path d="M62 40.2 m-1.6 0 a1.6 1.6 0 1 0 3.2 0 a1.6 1.6 0 1 0 -3.2 0" fill="none" stroke="#c9ccd2" stroke-width="1.1" /><path d="M63.3 34.8 L70 41.8 M63.3 39 L69.6 32.3" fill="none" stroke="#c9ccd2" stroke-width="1.1" /><path d="M81 39 V32.2 H87.2" fill="none" stroke="#c9ccd2" stroke-width="1.1" /><path d="M83.4 34.6 H89.3 V41 H83.4 Z" fill="#8f939a" stroke="#c9ccd2" stroke-width="1.2" /><path d="M101.8 33.2 H108.3 V40.9 H101.8 Z" fill="#21252b" stroke="#c9ccd2" stroke-width="1.3" /><path d="M103.6 31.6 H106.5 V33.6 H103.6 Z" fill="#c9ccd2" /><path d="M134.9 35.4 A4.1 4.1 0 0 0 127.3 35.2 M127.1 38.4 A4.1 4.1 0 0 0 134.7 38.6" fill="none" stroke="#c9ccd2" stroke-width="1.5" /><path d="M126 33.4 V36.8 H129.4 Z" fill="#c9ccd2" /><path d="M136 40.6 V37.2 H132.6 Z" fill="#c9ccd2" /><path d="M152.2 37 C153.9 32.9 160.1 32.9 161.8 37 C160.1 41.1 153.9 41.1 152.2 37 Z" fill="none" stroke="#c9ccd2" stroke-width="1.6" /><path d="M157 37 m-1.25 0 a1.25 1.25 0 1 0 2.5 0 a1.25 1.25 0 1 0 -2.5 0" fill="#c9ccd2" /><path d="M549 64.2 V68.8" fill="none" stroke="#c8ccd2" stroke-width="1.4" /><path d="M545.9 68.1 H552.1 L549 71.2 Z" fill="#c8ccd2" /><path d="M8 0C3.58 0 0 3.58 0 8c0 3.54 2.29 6.53 5.47 7.59.4.07.55-.17.55-.38 0-.19-.01-.82-.01-1.49-2.01.37-2.53-.49-2.69-.94-.09-.23-.48-.94-.82-1.13-.28-.15-.68-.52-.01-.53.63-.01 1.08.58 1.23.82.72 1.21 1.87.87 2.33.66.07-.52.28-.87.51-1.07-1.78-.2-3.640-.89-3.64-3.95 0-.87.31-1.59.82-2.15-.08-.2-.36-1.020.08-2.12 0 0 .67-.21 2.2.82.64-.18 1.32-.27 2-.27.68 0 1.36.09 2 .27 1.53-1.04 2.2-.82 2.2-.82.44 1.1.16 1.92.08 2.12.51.56.82 1.27.82 2.15 0 3.07-1.87 3.75-3.65 3.95.29.25.54.73.54 1.48 0 1.07-.01 1.93-.01 2.200 0 .21.15.46.55.38A8.013 8.013 0 0016 8c0-4.42-3.58-8-8-8z" fill="#f0f0f0" transform="translate(563.6 63.5) scale(0.67)"/><path d="M619.30 67.35 H625.70 L622.50 70.95 Z" fill="#e6e8ea" /><path d="M411.60 116.50 C411.60 114.10 416.50 114.10 416.50 116.60 C416.50 118.30 414.00 118.40 414.00 120.60" fill="none" stroke="#e6e8ea" stroke-width="1.3" /><path d="M413.25 121.60 h1.5 v1.5 h-1.5 Z" fill="#e6e8ea" /><path d="M434.10 116.50 C434.10 114.10 439.00 114.10 439.00 116.60 C439.00 118.30 436.50 118.40 436.50 120.60" fill="none" stroke="#5a5f68" stroke-width="1.3" /><path d="M435.75 121.60 h1.5 v1.5 h-1.5 Z" fill="#5a5f68" /><path d="M267.4 140.6 L269.6 142.9 L273.8 137.8" fill="none" stroke="#e6e8ea" stroke-width="1.4" /><path d="M349.4 140.6 L351.6 142.9 L355.8 137.8" fill="none" stroke="#7b808a" stroke-width="1.3" /><circle cx="106.5" cy="161.6" r="5.1" fill="#21252b" stroke="#464b54" stroke-width="1"/><circle cx="188.5" cy="161.6" r="5.1" fill="#21252b" stroke="#2f333a" stroke-width="1"/><circle cx="270.5" cy="161.6" r="5.1" fill="#21252b" stroke="#464b54" stroke-width="1"/><circle cx="270.5" cy="161.6" r="1.9" fill="#e6e8ea"/><circle cx="352.5" cy="161.6" r="5.1" fill="#21252b" stroke="#2f333a" stroke-width="1"/><circle cx="352.5" cy="161.6" r="1.7" fill="#7b808a"/><path d="M164.20 181.80 H170.60 L167.40 185.40 Z" fill="#e6e8ea" /><path d="M246.30 181.80 H252.70 L249.50 185.40 Z" fill="#4a4f58" /><path d="M328.30 181.80 H334.70 L331.50 185.40 Z" fill="#e6e8ea" /><path d="M446.30 181.80 H452.70 L449.50 185.40 Z" fill="#4a4f58" /><path d="M164.20 206.1 H170.60 L167.40 202.3 Z" fill="#e6e8ea" /><path d="M164.20 207.8 H170.60 L167.40 211.7 Z" fill="#e6e8ea" /><path d="M246.20 206.1 H252.60 L249.40 202.3 Z" fill="#4a4f58" /><path d="M246.20 207.8 H252.60 L249.40 211.7 Z" fill="#4a4f58" /><path d="M105.60 252 h2 v2 h-2 Z M109.12 252 h2 v2 h-2 Z M112.64 252 h2 v2 h-2 Z M116.16 252 h2 v2 h-2 Z M119.68 252 h2 v2 h-2 Z M123.20 252 h2 v2 h-2 Z M126.72 252 h2 v2 h-2 Z M130.24 252 h2 v2 h-2 Z " fill="#e6e8ea" /><path d="M187.40 252 h2 v2 h-2 Z M190.92 252 h2 v2 h-2 Z M194.44 252 h2 v2 h-2 Z M197.96 252 h2 v2 h-2 Z M201.48 252 h2 v2 h-2 Z M205.00 252 h2 v2 h-2 Z M208.52 252 h2 v2 h-2 Z M212.04 252 h2 v2 h-2 Z " fill="#9a9ea6" /><path d="M269.50 252 h2 v2 h-2 Z M273.02 252 h2 v2 h-2 Z M276.54 252 h2 v2 h-2 Z M280.06 252 h2 v2 h-2 Z M283.58 252 h2 v2 h-2 Z M287.10 252 h2 v2 h-2 Z M290.62 252 h2 v2 h-2 Z M294.14 252 h2 v2 h-2 Z M297.66 252 h2 v2 h-2 Z M301.18 252 h2 v2 h-2 Z M304.70 252 h2 v2 h-2 Z M308.22 252 h2 v2 h-2 Z " fill="#e6e8ea" /><path d="M351.70 252 h2 v2 h-2 Z M355.22 252 h2 v2 h-2 Z M358.74 252 h2 v2 h-2 Z M362.26 252 h2 v2 h-2 Z M365.78 252 h2 v2 h-2 Z M369.30 252 h2 v2 h-2 Z M372.82 252 h2 v2 h-2 Z M376.34 252 h2 v2 h-2 Z M379.86 252 h2 v2 h-2 Z M383.38 252 h2 v2 h-2 Z M386.90 252 h2 v2 h-2 Z M390.42 252 h2 v2 h-2 Z M393.94 252 h2 v2 h-2 Z M397.46 252 h2 v2 h-2 Z M400.98 252 h2 v2 h-2 Z M404.50 252 h2 v2 h-2 Z M408.02 252 h2 v2 h-2 Z M411.54 252 h2 v2 h-2 Z M415.06 252 h2 v2 h-2 Z M418.58 252 h2 v2 h-2 Z M422.10 252 h2 v2 h-2 Z " fill="#9a9ea6" /><path d="M87.70 290.20 H94.10 L90.90 293.80 Z" fill="#e6e8ea" /><path d="M178.4 291.6 L180.6 293.9 L184.8 288.8" fill="none" stroke="#e6e8ea" stroke-width="1.4" /></svg></div><div class="p" style="left:0px;top:315px;background:#e4e6eb;"><div style="left:0.00px;top:0.00px;width:640.00px;height:24.00px;background:#e4e6eb;"></div><div style="left:0.00px;top:23.00px;width:640.00px;height:1.00px;background:#cfd3da;"></div><div style="left:6.00px;top:5.00px;width:13.00px;height:13.00px;background:#e35d00;border-radius:1.5px;"></div><span class="t" style="left:30.40px;top:7.73px;font-size:10.0px;color:#4f4f4f;transform:scaleX(0.813033359193173);">File</span><span class="t" style="left:55.70px;top:7.73px;font-size:10.0px;color:#4f4f4f;transform:scaleX(0.8298875589408778);">Edit</span><span class="t" style="left:82.70px;top:7.73px;font-size:10.0px;color:#4f4f4f;transform:scaleX(0.8467577784239605);">View</span><span class="t" style="left:113.00px;top:7.73px;font-size:10.0px;color:#4f4f4f;transform:scaleX(0.8846544318625537);">Font</span><span class="t" style="left:142.90px;top:7.73px;font-size:10.0px;color:#4f4f4f;transform:scaleX(0.93148945817275);">Options</span><span class="t" style="left:187.00px;top:7.73px;font-size:10.0px;color:#4f4f4f;transform:scaleX(0.8995593374867041);">Help</span><span class="t" style="left:358.20px;top:7.73px;font-size:10.0px;color:#666a70;transform:scaleX(0.868039465805847);">FlatLaf Demo</span><div style="left:6.00px;top:32.00px;width:1.00px;height:1.00px;background:#9b9b9b;"></div><div style="left:6.00px;top:35.00px;width:1.00px;height:1.00px;background:#9b9b9b;"></div><div style="left:6.00px;top:38.00px;width:1.00px;height:1.00px;background:#9b9b9b;"></div><div style="left:6.00px;top:41.00px;width:1.00px;height:1.00px;background:#9b9b9b;"></div><div style="left:51.05px;top:29.30px;width:1.50px;height:15.40px;background:#cdd0d5;"></div><div style="left:117.05px;top:29.30px;width:1.50px;height:15.40px;background:#cdd0d5;"></div><div style="left:143.15px;top:29.30px;width:1.50px;height:15.40px;background:#cdd0d5;"></div><div style="left:148.60px;top:29.10px;width:16.50px;height:15.80px;background:#cfd1d5;border-radius:1.5px;"></div><div style="left:9.00px;top:82.00px;width:476.00px;height:1.00px;background:#cfd3da;"></div><div style="left:9.00px;top:82.00px;width:92.00px;height:2.00px;background:#21a3c7;"></div><span class="t" style="left:18.10px;top:66.23px;font-size:10.0px;color:#2b2b2b;transform:scaleX(0.8698080539161841);">Basic Components</span><span class="t" style="left:109.60px;top:66.23px;font-size:10.0px;color:#2b2b2b;transform:scaleX(0.9081549303801075);">More Components</span><span class="t" style="left:202.00px;top:66.23px;font-size:10.0px;color:#2b2b2b;transform:scaleX(0.9094821736685988);">Data Components</span><span class="t" style="left:292.90px;top:66.23px;font-size:10.0px;color:#2b2b2b;transform:scaleX(0.881887172737182);">SplitPane &amp; Tabs</span><span class="t" style="left:377.80px;top:66.23px;font-size:10.0px;color:#2b2b2b;transform:scaleX(0.8904128840046094);">Option Pane</span><span class="t" style="left:445.50px;top:66.23px;font-size:10.0px;color:#2b2b2b;transform:scaleX(0.8010145007443348);">Extras</span><span class="t" style="left:494.30px;top:65.03px;font-size:10.0px;color:#2b2b2b;transform:scaleX(0.8226551516368749);">Themes:</span><div style="left:544.50px;top:72.10px;width:9.10px;height:1.60px;background:#2b2b2b;"></div><div style="left:586.00px;top:61.00px;width:45.00px;height:17.00px;background:#ffffff;box-shadow:inset 0 0 0 1px #c3c6cc;border-radius:2px;"></div><span class="t" style="left:591.80px;top:64.83px;font-size:10.0px;color:#2b2b2b;transform:scaleX(0.86);">all</span><div style="left:494px;top:82px;width:137px;height:185px;background:#eff0f3;overflow:hidden;"><div style="left:1px;top:103.70px;width:127px;height:14.5px;background:#d0d4db;"></div><div style="left:4.00px;top:-16.95px;width:24.77px;height:1.4px;background:#a9acb2;"></div><div style="left:100.63px;top:-16.95px;width:24.77px;height:1.4px;background:#a9acb2;"></div><span class="t" style="left:31.97px;top:-20.62px;font-size:10.0px;color:#b0b3b8;transform:scaleX(0.86);">Current Directory</span><span class="t" style="left:5.70px;top:-7.07px;font-size:10.0px;color:#2b2b2b;transform:scaleX(0.88);">DemoLaf</span><div style="left:4.00px;top:9.85px;width:28.66px;height:1.4px;background:#a9acb2;"></div><div style="left:96.74px;top:9.85px;width:28.66px;height:1.4px;background:#a9acb2;"></div><span class="t" style="left:35.86px;top:6.18px;font-size:10.0px;color:#b0b3b8;transform:scaleX(0.86);">IntelliJ Themes</span><span class="t" style="left:5.70px;top:19.73px;font-size:10.0px;color:#2b2b2b;transform:scaleX(0.88);">Arc</span><span class="t" style="left:5.70px;top:34.23px;font-size:10.0px;color:#2b2b2b;transform:scaleX(0.88);">Arc - Orange</span><span class="t" style="left:5.70px;top:48.73px;font-size:10.0px;color:#2b2b2b;transform:scaleX(0.88);">Arc Dark</span><span class="t" style="left:5.70px;top:63.23px;font-size:10.0px;color:#2b2b2b;transform:scaleX(0.88);">Arc Dark - Orange</span><span class="t" style="left:5.70px;top:77.73px;font-size:10.0px;color:#2b2b2b;transform:scaleX(0.88);">Carbon</span><span class="t" style="left:5.70px;top:92.23px;font-size:10.0px;color:#2b2b2b;transform:scaleX(0.88);">Cobalt 2</span><span class="t" style="left:5.70px;top:106.73px;font-size:10.0px;color:#2b2b2b;transform:scaleX(0.88);">Cyan light</span><span class="t" style="left:5.70px;top:121.23px;font-size:10.0px;color:#2b2b2b;transform:scaleX(0.88);">Dark Flat</span><span class="t" style="left:5.70px;top:135.73px;font-size:10.0px;color:#2b2b2b;transform:scaleX(0.88);">Dark purple</span><span class="t" style="left:5.70px;top:150.23px;font-size:10.0px;color:#2b2b2b;transform:scaleX(0.88);">Dracula</span><span class="t" style="left:5.70px;top:164.73px;font-size:10.0px;color:#2b2b2b;transform:scaleX(0.88);">Gradianto Dark Fuchsia</span><span class="t" style="left:5.70px;top:179.23px;font-size:10.0px;color:#2b2b2b;transform:scaleX(0.88);">Gradianto Deep Ocean</span><span class="t" style="left:5.70px;top:193.73px;font-size:10.0px;color:#2b2b2b;transform:scaleX(0.88);">Gradianto Midnight Blue</span><div style="left:128.5px;top:1px;width:8px;height:183px;background:#e8e9ec;"></div><div style="left:128.5px;top:18.54px;width:7.5px;height:34px;background:#cdd0d6;"></div></div><div style="left:494.00px;top:82.00px;width:137.00px;height:185.00px;box-shadow:inset 0 0 0 1px #c3c6cc;"></div><span class="t" style="left:17.50px;top:94.23px;font-size:10.0px;color:#2b2b2b;transform:scaleX(0.7939523163403761);">JLabel:</span><span class="t" style="left:17.50px;top:114.73px;font-size:10.0px;color:#2b2b2b;transform:scaleX(0.86);">JButton:</span><span class="t" style="left:17.50px;top:136.73px;font-size:10.0px;color:#2b2b2b;transform:scaleX(0.86);">JCheckBox</span><span class="t" style="left:17.50px;top:157.23px;font-size:10.0px;color:#2b2b2b;transform:scaleX(0.86);">JRadioButton:</span><span class="t" style="left:17.50px;top:179.23px;font-size:10.0px;color:#2b2b2b;transform:scaleX(0.86);">JComboBox:</span><span class="t" style="left:17.50px;top:202.23px;font-size:10.0px;color:#2b2b2b;transform:scaleX(0.86);">JSpinner:</span><span class="t" style="left:17.50px;top:225.23px;font-size:10.0px;color:#2b2b2b;transform:scaleX(0.86);">JTextField:</span><span class="t" style="left:17.50px;top:248.23px;font-size:10.0px;color:#2b2b2b;transform:scaleX(0.8424640027264206);">JPasswordField:</span><span class="t" style="left:99.70px;top:94.23px;font-size:10.0px;color:#2b2b2b;transform:scaleX(0.8529336626075109);">Enabled</span><span class="t" style="left:181.90px;top:94.23px;font-size:10.0px;color:#a9abb0;transform:scaleX(0.86);">Disabled</span><div style="left:100.00px;top:110.00px;width:54.00px;height:17.00px;background:#ffffff;box-shadow:inset 0 0 0 1px #c3c6cc;border-radius:2px;"></div><span class="t" style="left:111.10px;top:114.73px;font-size:10.0px;color:#2b2b2b;transform:scaleX(0.8529336626075109);">Enabled</span><div style="left:182.00px;top:110.00px;width:57.00px;height:17.00px;background:#e4e6eb;box-shadow:inset 0 0 0 1px #d0d3d8;border-radius:2px;"></div><span class="t" style="left:193.52px;top:114.73px;font-size:10.0px;color:#a9abb0;transform:scaleX(0.86);">Disabled</span><div style="left:264.00px;top:110.00px;width:54.00px;height:17.00px;background:#ffffff;box-shadow:inset 0 0 0 1px #c3c6cc;"></div><span class="t" style="left:277.05px;top:114.73px;font-size:10.0px;color:#2b2b2b;transform:scaleX(0.8466757123473542);">Square</span><div style="left:346.00px;top:110.00px;width:54.00px;height:17.00px;background:#ffffff;box-shadow:inset 0 0 0 1px #c3c6cc;border-radius:9px;"></div><span class="t" style="left:359.55px;top:114.73px;font-size:10.0px;color:#2b2b2b;transform:scaleX(0.8891717043164704);">Round</span><div style="left:406.00px;top:111.00px;width:16.00px;height:16.00px;background:#ffffff;box-shadow:inset 0 0 0 1px #c3c6cc;border-radius:8px;"></div><div style="left:428.00px;top:111.00px;width:16.00px;height:16.00px;background:#e4e6eb;box-shadow:inset 0 0 0 1px #d0d3d8;border-radius:8px;"></div><div style="left:101.00px;top:135.00px;width:11.00px;height:11.00px;background:#ffffff;box-shadow:inset 0 0 0 1px #8c8f94;border-radius:1.5px;"></div><span class="t" style="left:115.70px;top:136.73px;font-size:10.0px;color:#2b2b2b;transform:scaleX(0.8529336626075109);">Enabled</span><div style="left:183.00px;top:135.00px;width:11.00px;height:11.00px;background:#e4e6eb;box-shadow:inset 0 0 0 1px #c6c9ce;border-radius:1.5px;"></div><span class="t" style="left:198.00px;top:136.73px;font-size:10.0px;color:#a9abb0;transform:scaleX(0.86);">Disabled</span><div style="left:265.00px;top:135.00px;width:11.00px;height:11.00px;background:#21a3c7;box-shadow:inset 0 0 0 1px #21a3c7;border-radius:1.5px;"></div><span class="t" style="left:279.70px;top:136.73px;font-size:10.0px;color:#2b2b2b;transform:scaleX(0.835173659907649);">Selected</span><div style="left:347.00px;top:135.00px;width:11.00px;height:11.00px;background:#e4e6eb;box-shadow:inset 0 0 0 1px #c6c9ce;border-radius:1.5px;"></div><span class="t" style="left:361.50px;top:136.73px;font-size:10.0px;color:#a9abb0;transform:scaleX(0.870274335932861);">Selected disabled</span><span class="t" style="left:115.70px;top:157.23px;font-size:10.0px;color:#2b2b2b;transform:scaleX(0.8529336626075109);">Enabled</span><span class="t" style="left:198.00px;top:157.23px;font-size:10.0px;color:#a9abb0;transform:scaleX(0.86);">Disabled</span><span class="t" style="left:279.70px;top:157.23px;font-size:10.0px;color:#2b2b2b;transform:scaleX(0.835173659907649);">Selected</span><span class="t" style="left:361.50px;top:157.23px;font-size:10.0px;color:#a9abb0;transform:scaleX(0.870274335932861);">Selected disabled</span><div style="left:100.00px;top:175.00px;width:76.00px;height:17.00px;background:#ffffff;box-shadow:inset 0 0 0 1px #c3c6cc;border-radius:2px;"></div><div style="left:160.00px;top:176.00px;width:15.00px;height:15.00px;background:#ffffff;"></div><div style="left:160.00px;top:176.00px;width:1.00px;height:15.00px;background:#c3c6cc;"></div><span class="t" style="left:105.00px;top:179.23px;font-size:10.0px;color:#2b2b2b;transform:scaleX(0.8606390798633633);">Editable</span><div style="left:182.00px;top:175.00px;width:76.00px;height:17.00px;background:#e4e6eb;box-shadow:inset 0 0 0 1px #d0d3d8;border-radius:2px;"></div><div style="left:242.00px;top:176.00px;width:15.00px;height:15.00px;background:#e4e6eb;"></div><div style="left:242.00px;top:176.00px;width:1.00px;height:15.00px;background:#d0d3d8;"></div><span class="t" style="left:187.20px;top:179.23px;font-size:10.0px;color:#a9abb0;transform:scaleX(0.86);">Disabled</span><div style="left:264.00px;top:175.00px;width:76.00px;height:17.00px;background:#ffffff;box-shadow:inset 0 0 0 1px #c3c6cc;border-radius:2px;"></div><span class="t" style="left:269.40px;top:179.23px;font-size:10.0px;color:#2b2b2b;transform:scaleX(0.9144463313228318);">Not editable</span><div style="left:346.00px;top:175.00px;width:112.00px;height:17.00px;background:#e4e6eb;box-shadow:inset 0 0 0 1px #d0d3d8;border-radius:2px;"></div><span class="t" style="left:351.60px;top:179.23px;font-size:10.0px;color:#a9abb0;transform:scaleX(0.9037158488230078);">Not editable disabled</span><div style="left:100.00px;top:198.00px;width:76.00px;height:17.00px;background:#ffffff;box-shadow:inset 0 0 0 1px #c3c6cc;border-radius:2px;"></div><div style="left:160.00px;top:199.00px;width:15.00px;height:15.00px;background:#ffffff;"></div><div style="left:160.00px;top:199.00px;width:1.00px;height:15.00px;background:#c3c6cc;"></div><span class="t" style="left:149.62px;top:202.23px;font-size:10.0px;color:#2b2b2b;transform:scaleX(0.86);">0</span><div style="left:182.00px;top:198.00px;width:76.00px;height:17.00px;background:#e4e6eb;box-shadow:inset 0 0 0 1px #d0d3d8;border-radius:2px;"></div><div style="left:242.00px;top:199.00px;width:15.00px;height:15.00px;background:#e4e6eb;"></div><div style="left:242.00px;top:199.00px;width:1.00px;height:15.00px;background:#d0d3d8;"></div><span class="t" style="left:231.62px;top:202.23px;font-size:10.0px;color:#a9abb0;transform:scaleX(0.86);">0</span><div style="left:98.00px;top:220.00px;width:79.00px;height:20.00px;background:#ffffff;box-shadow:inset 0 0 0 2px #4fb4d8;border-radius:1.5px;"></div><span class="t" style="left:105.10px;top:225.23px;font-size:10.0px;color:#2b2b2b;transform:scaleX(0.8606390798633633);">Editable</span><div style="left:136.20px;top:223.40px;width:1.20px;height:12.60px;background:#000000;"></div><div style="left:182.00px;top:221.00px;width:76.00px;height:17.00px;background:#e4e6eb;box-shadow:inset 0 0 0 1px #d0d3d8;border-radius:2px;"></div><span class="t" style="left:187.20px;top:225.23px;font-size:10.0px;color:#a9abb0;transform:scaleX(0.86);">Disabled</span><div style="left:264.00px;top:221.00px;width:76.00px;height:17.00px;background:#e4e6eb;box-shadow:inset 0 0 0 1px #c3c6cc;border-radius:2px;"></div><span class="t" style="left:269.20px;top:225.23px;font-size:10.0px;color:#2b2b2b;transform:scaleX(0.9144463313228318);">Not editable</span><div style="left:346.00px;top:221.00px;width:112.00px;height:17.00px;background:#e4e6eb;box-shadow:inset 0 0 0 1px #d0d3d8;border-radius:2px;"></div><span class="t" style="left:351.20px;top:225.23px;font-size:10.0px;color:#a9abb0;transform:scaleX(0.9037158488230078);">Not editable disabled</span><div style="left:100.00px;top:244.00px;width:76.00px;height:17.00px;background:#ffffff;box-shadow:inset 0 0 0 1px #c3c6cc;border-radius:2px;"></div><div style="left:182.00px;top:244.00px;width:76.00px;height:17.00px;background:#e4e6eb;box-shadow:inset 0 0 0 1px #d0d3d8;border-radius:2px;"></div><div style="left:264.00px;top:244.00px;width:76.00px;height:17.00px;background:#e4e6eb;box-shadow:inset 0 0 0 1px #c3c6cc;border-radius:2px;"></div><div style="left:346.00px;top:244.00px;width:112.00px;height:17.00px;background:#e4e6eb;box-shadow:inset 0 0 0 1px #d0d3d8;border-radius:2px;"></div><div style="left:9.00px;top:276.00px;width:622.00px;height:1.00px;background:#b8bcc4;"></div><div style="left:9.00px;top:284.00px;width:90.00px;height:17.00px;background:#ffffff;box-shadow:inset 0 0 0 1px #c3c6cc;border-radius:2px;"></div><span class="t" style="left:14.90px;top:288.23px;font-size:10.0px;color:#2b2b2b;transform:scaleX(0.86);">Cyan light</span><div style="left:107.00px;top:286.00px;width:11.00px;height:11.00px;background:#ffffff;box-shadow:inset 0 0 0 1px #8c8f94;border-radius:1.5px;"></div><span class="t" style="left:121.20px;top:288.23px;font-size:10.0px;color:#2b2b2b;transform:scaleX(0.9688409350989047);">right-to-left</span><div style="left:176.00px;top:286.00px;width:11.00px;height:11.00px;background:#21a3c7;box-shadow:inset 0 0 0 1px #21a3c7;border-radius:1.5px;"></div><span class="t" style="left:190.60px;top:288.23px;font-size:10.0px;color:#2b2b2b;transform:scaleX(0.8682824025289778);">enabled</span><span class="t" style="left:299.50px;top:288.23px;font-size:10.0px;color:#2b2b2b;transform:scaleX(0.8505195843325339);">(Java 1.8.0_202;  user scale factor 1.5; Segoe UI 18)</span><div style="left:575.00px;top:284.00px;width:56.00px;height:17.00px;background:#21a3c7;border-radius:2.5px;"></div><span class="t" style="left:591.40px;top:288.23px;font-size:10.0px;color:#ffffff;transform:scaleX(0.8116141619326332);font-weight:bold;">Close</span><div style="left:0.00px;top:0.00px;width:640.00px;height:310.00px;box-shadow:inset 0 0 0 1px #9a9a9a;"></div><svg class="ov" width="640" height="310" viewBox="0 0 640 310"><path d="M9.6 14.8 V7.9 H12.6 M9.6 10.6 H12.1" fill="none" stroke="#fff4ea" stroke-width="1.5" /><path d="M13.6 10.4 V14.6 H15.9" fill="none" stroke="#fff4ea" stroke-width="1.3" /><path d="M553.2 11.6 H560.8" fill="none" stroke="#7a7e84" stroke-width="1" /><path d="M586.1 8.6 H593.3 V15.2 H586.1 Z" fill="none" stroke="#7a7e84" stroke-width="1" /><path d="M619 8.3 L626.5 15.5 M626.5 8.3 L619 15.5" fill="none" stroke="#7a7e84" stroke-width="1" /><path d="M23.6 37 H15 M18.6 33.4 L15 37 L18.6 40.6" fill="none" stroke="#5e5e5e" stroke-width="1.7" /><path d="M34.4 37 H43 M39.4 33.4 L43 37 L39.4 40.6" fill="none" stroke="#5e5e5e" stroke-width="1.7" /><path d="M62 33.6 m-1.6 0 a1.6 1.6 0 1 0 3.2 0 a1.6 1.6 0 1 0 -3.2 0" fill="none" stroke="#5e5e5e" stroke-width="1.1" /><path d="M62 40.2 m-1.6 0 a1.6 1.6 0 1 0 3.2 0 a1.6 1.6 0 1 0 -3.2 0" fill="none" stroke="#5e5e5e" stroke-width="1.1" /><path d="M63.3 34.8 L70 41.8 M63.3 39 L69.6 32.3" fill="none" stroke="#5e5e5e" stroke-width="1.1" /><path d="M81 39 V32.2 H87.2" fill="none" stroke="#5e5e5e" stroke-width="1.1" /><path d="M83.4 34.6 H89.3 V41 H83.4 Z" fill="#b0b0b0" stroke="#5e5e5e" stroke-width="1.2" /><path d="M101.8 33.2 H108.3 V40.9 H101.8 Z" fill="#ffffff" stroke="#5e5e5e" stroke-width="1.3" /><path d="M103.6 31.6 H106.5 V33.6 H103.6 Z" fill="#5e5e5e" /><path d="M134.9 35.4 A4.1 4.1 0 0 0 127.3 35.2 M127.1 38.4 A4.1 4.1 0 0 0 134.7 38.6" fill="none" stroke="#5e5e5e" stroke-width="1.5" /><path d="M126 33.4 V36.8 H129.4 Z" fill="#5e5e5e" /><path d="M136 40.6 V37.2 H132.6 Z" fill="#5e5e5e" /><path d="M152.2 37 C153.9 32.9 160.1 32.9 161.8 37 C160.1 41.1 153.9 41.1 152.2 37 Z" fill="none" stroke="#6a6a6a" stroke-width="1.6" /><path d="M157 37 m-1.25 0 a1.25 1.25 0 1 0 2.5 0 a1.25 1.25 0 1 0 -2.5 0" fill="#6a6a6a" /><path d="M549 64.2 V68.8" fill="none" stroke="#5a5a5a" stroke-width="1.4" /><path d="M545.9 68.1 H552.1 L549 71.2 Z" fill="#5a5a5a" /><path d="M8 0C3.58 0 0 3.58 0 8c0 3.54 2.29 6.53 5.47 7.59.4.07.55-.17.55-.38 0-.19-.01-.82-.01-1.49-2.01.37-2.53-.49-2.69-.94-.09-.23-.48-.94-.82-1.13-.28-.15-.68-.52-.01-.53.63-.01 1.08.58 1.23.82.72 1.21 1.87.87 2.33.66.07-.52.28-.87.51-1.07-1.78-.2-3.640-.89-3.64-3.95 0-.87.31-1.59.82-2.15-.08-.2-.36-1.020.08-2.12 0 0 .67-.21 2.2.82.64-.18 1.32-.27 2-.27.68 0 1.36.09 2 .27 1.53-1.04 2.2-.82 2.2-.82.44 1.1.16 1.92.08 2.12.51.56.82 1.27.82 2.15 0 3.07-1.87 3.75-3.65 3.95.29.25.54.73.54 1.48 0 1.07-.01 1.93-.01 2.200 0 .21.15.46.55.38A8.013 8.013 0 0016 8c0-4.42-3.58-8-8-8z" fill="#111111" transform="translate(563.6 63.5) scale(0.67)"/><path d="M619.30 67.35 H625.70 L622.50 70.95 Z" fill="#4f4f4f" /><path d="M411.60 116.50 C411.60 114.10 416.50 114.10 416.50 116.60 C416.50 118.30 414.00 118.40 414.00 120.60" fill="none" stroke="#2f7ad6" stroke-width="1.3" /><path d="M413.25 121.60 h1.5 v1.5 h-1.5 Z" fill="#2f7ad6" /><path d="M434.10 116.50 C434.10 114.10 439.00 114.10 439.00 116.60 C439.00 118.30 436.50 118.40 436.50 120.60" fill="none" stroke="#a0a0a0" stroke-width="1.3" /><path d="M435.75 121.60 h1.5 v1.5 h-1.5 Z" fill="#a0a0a0" /><path d="M267.4 140.6 L269.6 142.9 L273.8 137.8" fill="none" stroke="#ffffff" stroke-width="1.4" /><path d="M349.4 140.6 L351.6 142.9 L355.8 137.8" fill="none" stroke="#a9abb0" stroke-width="1.3" /><circle cx="106.5" cy="161.6" r="5.1" fill="#ffffff" stroke="#8c8f94" stroke-width="1"/><circle cx="188.5" cy="161.6" r="5.1" fill="#e4e6eb" stroke="#c6c9ce" stroke-width="1"/><circle cx="270.5" cy="161.6" r="5.1" fill="#21a3c7" stroke="#21a3c7" stroke-width="1"/><circle cx="270.5" cy="161.6" r="1.9" fill="#ffffff"/><circle cx="352.5" cy="161.6" r="5.1" fill="#e4e6eb" stroke="#c6c9ce" stroke-width="1"/><circle cx="352.5" cy="161.6" r="1.7" fill="#a9abb0"/><path d="M164.20 181.80 H170.60 L167.40 185.40 Z" fill="#4f4f4f" /><path d="M246.30 181.80 H252.70 L249.50 185.40 Z" fill="#a9abb0" /><path d="M328.30 181.80 H334.70 L331.50 185.40 Z" fill="#4f4f4f" /><path d="M446.30 181.80 H452.70 L449.50 185.40 Z" fill="#a9abb0" /><path d="M164.20 206.1 H170.60 L167.40 202.3 Z" fill="#4f4f4f" /><path d="M164.20 207.8 H170.60 L167.40 211.7 Z" fill="#4f4f4f" /><path d="M246.20 206.1 H252.60 L249.40 202.3 Z" fill="#a9abb0" /><path d="M246.20 207.8 H252.60 L249.40 211.7 Z" fill="#a9abb0" /><path d="M105.60 252 h2 v2 h-2 Z M109.12 252 h2 v2 h-2 Z M112.64 252 h2 v2 h-2 Z M116.16 252 h2 v2 h-2 Z M119.68 252 h2 v2 h-2 Z M123.20 252 h2 v2 h-2 Z M126.72 252 h2 v2 h-2 Z M130.24 252 h2 v2 h-2 Z " fill="#111111" /><path d="M187.40 252 h2 v2 h-2 Z M190.92 252 h2 v2 h-2 Z M194.44 252 h2 v2 h-2 Z M197.96 252 h2 v2 h-2 Z M201.48 252 h2 v2 h-2 Z M205.00 252 h2 v2 h-2 Z M208.52 252 h2 v2 h-2 Z M212.04 252 h2 v2 h-2 Z " fill="#8c8c8c" /><path d="M269.50 252 h2 v2 h-2 Z M273.02 252 h2 v2 h-2 Z M276.54 252 h2 v2 h-2 Z M280.06 252 h2 v2 h-2 Z M283.58 252 h2 v2 h-2 Z M287.10 252 h2 v2 h-2 Z M290.62 252 h2 v2 h-2 Z M294.14 252 h2 v2 h-2 Z M297.66 252 h2 v2 h-2 Z M301.18 252 h2 v2 h-2 Z M304.70 252 h2 v2 h-2 Z M308.22 252 h2 v2 h-2 Z " fill="#111111" /><path d="M351.70 252 h2 v2 h-2 Z M355.22 252 h2 v2 h-2 Z M358.74 252 h2 v2 h-2 Z M362.26 252 h2 v2 h-2 Z M365.78 252 h2 v2 h-2 Z M369.30 252 h2 v2 h-2 Z M372.82 252 h2 v2 h-2 Z M376.34 252 h2 v2 h-2 Z M379.86 252 h2 v2 h-2 Z M383.38 252 h2 v2 h-2 Z M386.90 252 h2 v2 h-2 Z M390.42 252 h2 v2 h-2 Z M393.94 252 h2 v2 h-2 Z M397.46 252 h2 v2 h-2 Z M400.98 252 h2 v2 h-2 Z M404.50 252 h2 v2 h-2 Z M408.02 252 h2 v2 h-2 Z M411.54 252 h2 v2 h-2 Z M415.06 252 h2 v2 h-2 Z M418.58 252 h2 v2 h-2 Z M422.10 252 h2 v2 h-2 Z " fill="#8c8c8c" /><path d="M87.70 290.20 H94.10 L90.90 293.80 Z" fill="#4f4f4f" /><path d="M178.4 291.6 L180.6 293.9 L184.8 288.8" fill="none" stroke="#ffffff" stroke-width="1.4" /></svg></div><div class="p" style="left:645px;top:315px;background:#172130;"><div style="left:0.00px;top:0.00px;width:640.00px;height:24.00px;background:#172130;"></div><div style="left:0.00px;top:23.00px;width:640.00px;height:1.00px;background:#253041;"></div><div style="left:6.00px;top:5.00px;width:13.00px;height:13.00px;background:#e35d00;border-radius:1.5px;"></div><span class="t" style="left:30.40px;top:7.73px;font-size:10.0px;color:#b8c0c8;transform:scaleX(0.813033359193173);">File</span><span class="t" style="left:55.70px;top:7.73px;font-size:10.0px;color:#b8c0c8;transform:scaleX(0.8298875589408778);">Edit</span><span class="t" style="left:82.70px;top:7.73px;font-size:10.0px;color:#b8c0c8;transform:scaleX(0.8467577784239605);">View</span><span class="t" style="left:113.00px;top:7.73px;font-size:10.0px;color:#b8c0c8;transform:scaleX(0.8846544318625537);">Font</span><span class="t" style="left:142.90px;top:7.73px;font-size:10.0px;color:#b8c0c8;transform:scaleX(0.93148945817275);">Options</span><span class="t" style="left:187.00px;top:7.73px;font-size:10.0px;color:#b8c0c8;transform:scaleX(0.8995593374867041);">Help</span><span class="t" style="left:358.20px;top:7.73px;font-size:10.0px;color:#b8c0c8;transform:scaleX(0.868039465805847);">FlatLaf Demo</span><div style="left:6.00px;top:32.00px;width:1.00px;height:1.00px;background:#a0a8b0;"></div><div style="left:6.00px;top:35.00px;width:1.00px;height:1.00px;background:#a0a8b0;"></div><div style="left:6.00px;top:38.00px;width:1.00px;height:1.00px;background:#a0a8b0;"></div><div style="left:6.00px;top:41.00px;width:1.00px;height:1.00px;background:#a0a8b0;"></div><div style="left:51.05px;top:29.30px;width:1.50px;height:15.40px;background:#263142;"></div><div style="left:117.05px;top:29.30px;width:1.50px;height:15.40px;background:#263142;"></div><div style="left:143.15px;top:29.30px;width:1.50px;height:15.40px;background:#263142;"></div><div style="left:148.60px;top:29.10px;width:16.50px;height:15.80px;background:#0f6a78;border-radius:1.5px;"></div><div style="left:9.00px;top:82.00px;width:476.00px;height:1.00px;background:#243044;"></div><div style="left:9.00px;top:82.00px;width:92.00px;height:2.00px;background:#0f7b8a;"></div><span class="t" style="left:18.10px;top:66.23px;font-size:10.0px;color:#c5cdd5;transform:scaleX(0.8698080539161841);">Basic Components</span><span class="t" style="left:109.60px;top:66.23px;font-size:10.0px;color:#c5cdd5;transform:scaleX(0.9081549303801075);">More Components</span><span class="t" style="left:202.00px;top:66.23px;font-size:10.0px;color:#c5cdd5;transform:scaleX(0.9094821736685988);">Data Components</span><span class="t" style="left:292.90px;top:66.23px;font-size:10.0px;color:#c5cdd5;transform:scaleX(0.881887172737182);">SplitPane &amp; Tabs</span><span class="t" style="left:377.80px;top:66.23px;font-size:10.0px;color:#c5cdd5;transform:scaleX(0.8904128840046094);">Option Pane</span><span class="t" style="left:445.50px;top:66.23px;font-size:10.0px;color:#c5cdd5;transform:scaleX(0.8010145007443348);">Extras</span><span class="t" style="left:494.30px;top:65.03px;font-size:10.0px;color:#c5cdd5;transform:scaleX(0.8226551516368749);">Themes:</span><div style="left:544.50px;top:72.10px;width:9.10px;height:1.60px;background:#e8eef2;"></div><div style="left:586.00px;top:61.00px;width:45.00px;height:17.00px;background:#1d2a3c;box-shadow:inset 0 0 0 1px #26324a;border-radius:2px;"></div><span class="t" style="left:591.80px;top:64.83px;font-size:10.0px;color:#c5cdd5;transform:scaleX(0.86);">all</span><div style="left:494px;top:82px;width:137px;height:185px;background:#172130;overflow:hidden;"><div style="left:1px;top:168.90px;width:127px;height:14.5px;background:#1e2d44;"></div><div style="left:4.00px;top:6.95px;width:31.53px;height:1.4px;background:#56606c;"></div><div style="left:93.87px;top:6.95px;width:31.53px;height:1.4px;background:#56606c;"></div><span class="t" style="left:38.73px;top:3.29px;font-size:10.0px;color:#8a949e;transform:scaleX(0.86);">Core Themes</span><span class="t" style="left:5.70px;top:16.84px;font-size:10.0px;color:#c5cdd5;transform:scaleX(0.88);">Flat Light</span><span class="t" style="left:5.70px;top:31.34px;font-size:10.0px;color:#c5cdd5;transform:scaleX(0.88);">Flat Dark</span><span class="t" style="left:5.70px;top:45.83px;font-size:10.0px;color:#c5cdd5;transform:scaleX(0.88);">Flat IntelliJ</span><span class="t" style="left:5.70px;top:60.33px;font-size:10.0px;color:#c5cdd5;transform:scaleX(0.88);">Flat Darcula</span><div style="left:4.00px;top:77.25px;width:24.77px;height:1.4px;background:#56606c;"></div><div style="left:100.63px;top:77.25px;width:24.77px;height:1.4px;background:#56606c;"></div><span class="t" style="left:31.97px;top:73.59px;font-size:10.0px;color:#8a949e;transform:scaleX(0.86);">Current Directory</span><span class="t" style="left:5.70px;top:87.13px;font-size:10.0px;color:#c5cdd5;transform:scaleX(0.88);">DemoLaf</span><div style="left:4.00px;top:104.05px;width:28.66px;height:1.4px;background:#56606c;"></div><div style="left:96.74px;top:104.05px;width:28.66px;height:1.4px;background:#56606c;"></div><span class="t" style="left:35.86px;top:100.39px;font-size:10.0px;color:#8a949e;transform:scaleX(0.86);">IntelliJ Themes</span><span class="t" style="left:5.70px;top:113.93px;font-size:10.0px;color:#c5cdd5;transform:scaleX(0.88);">Arc</span><span class="t" style="left:5.70px;top:128.43px;font-size:10.0px;color:#c5cdd5;transform:scaleX(0.88);">Arc - Orange</span><span class="t" style="left:5.70px;top:142.93px;font-size:10.0px;color:#c5cdd5;transform:scaleX(0.88);">Arc Dark</span><span class="t" style="left:5.70px;top:157.43px;font-size:10.0px;color:#c5cdd5;transform:scaleX(0.88);">Arc Dark - Orange</span><span class="t" style="left:5.70px;top:171.93px;font-size:10.0px;color:#d5dde5;transform:scaleX(0.88);">Carbon</span><span class="t" style="left:5.70px;top:186.43px;font-size:10.0px;color:#c5cdd5;transform:scaleX(0.88);">Cobalt 2</span><span class="t" style="left:5.70px;top:200.93px;font-size:10.0px;color:#c5cdd5;transform:scaleX(0.88);">Cyan light</span><div style="left:128.5px;top:1px;width:8px;height:183px;background:#192333;"></div><div style="left:128.5px;top:1.40px;width:7.5px;height:34px;background:#2a3a58;"></div></div><div style="left:494.00px;top:82.00px;width:137.00px;height:185.00px;box-shadow:inset 0 0 0 1px #243044;"></div><span class="t" style="left:17.50px;top:94.23px;font-size:10.0px;color:#c5cdd5;transform:scaleX(0.7939523163403761);">JLabel:</span><span class="t" style="left:17.50px;top:114.73px;font-size:10.0px;color:#c5cdd5;transform:scaleX(0.86);">JButton:</span><span class="t" style="left:17.50px;top:136.73px;font-size:10.0px;color:#c5cdd5;transform:scaleX(0.86);">JCheckBox</span><span class="t" style="left:17.50px;top:157.23px;font-size:10.0px;color:#c5cdd5;transform:scaleX(0.86);">JRadioButton:</span><span class="t" style="left:17.50px;top:179.23px;font-size:10.0px;color:#c5cdd5;transform:scaleX(0.86);">JComboBox:</span><span class="t" style="left:17.50px;top:202.23px;font-size:10.0px;color:#c5cdd5;transform:scaleX(0.86);">JSpinner:</span><span class="t" style="left:17.50px;top:225.23px;font-size:10.0px;color:#c5cdd5;transform:scaleX(0.86);">JTextField:</span><span class="t" style="left:17.50px;top:248.23px;font-size:10.0px;color:#c5cdd5;transform:scaleX(0.8424640027264206);">JPasswordField:</span><span class="t" style="left:99.70px;top:94.23px;font-size:10.0px;color:#c5cdd5;transform:scaleX(0.8529336626075109);">Enabled</span><span class="t" style="left:181.90px;top:94.23px;font-size:10.0px;color:#6e7a86;transform:scaleX(0.86);">Disabled</span><div style="left:100.00px;top:110.00px;width:54.00px;height:17.00px;background:#0b4650;box-shadow:inset 0 0 0 1px #7c9aa0;border-radius:2px;"></div><span class="t" style="left:111.10px;top:114.73px;font-size:10.0px;color:#e0e6ea;transform:scaleX(0.8529336626075109);">Enabled</span><div style="left:182.00px;top:110.00px;width:57.00px;height:17.00px;background:#172130;box-shadow:inset 0 0 0 1px #4f5a66;border-radius:2px;"></div><span class="t" style="left:193.52px;top:114.73px;font-size:10.0px;color:#6e7a86;transform:scaleX(0.86);">Disabled</span><div style="left:264.00px;top:110.00px;width:54.00px;height:17.00px;background:#0b4650;box-shadow:inset 0 0 0 1px #7c9aa0;"></div><span class="t" style="left:277.05px;top:114.73px;font-size:10.0px;color:#e0e6ea;transform:scaleX(0.8466757123473542);">Square</span><div style="left:346.00px;top:110.00px;width:54.00px;height:17.00px;background:#0b4650;box-shadow:inset 0 0 0 1px #7c9aa0;border-radius:9px;"></div><span class="t" style="left:359.55px;top:114.73px;font-size:10.0px;color:#e0e6ea;transform:scaleX(0.8891717043164704);">Round</span><div style="left:406.00px;top:111.00px;width:16.00px;height:16.00px;background:#0b4650;box-shadow:inset 0 0 0 1px #7c9aa0;border-radius:8px;"></div><div style="left:428.00px;top:111.00px;width:16.00px;height:16.00px;background:#172130;box-shadow:inset 0 0 0 1px #4f5a66;border-radius:8px;"></div><div style="left:101.00px;top:135.00px;width:11.00px;height:11.00px;background:#1c283c;box-shadow:inset 0 0 0 1px #5a6673;border-radius:2px;"></div><span class="t" style="left:115.70px;top:136.73px;font-size:10.0px;color:#c5cdd5;transform:scaleX(0.8529336626075109);">Enabled</span><div style="left:183.00px;top:135.00px;width:11.00px;height:11.00px;background:#172130;box-shadow:inset 0 0 0 1px #4f5a66;border-radius:2px;"></div><span class="t" style="left:198.00px;top:136.73px;font-size:10.0px;color:#6e7a86;transform:scaleX(0.86);">Disabled</span><div style="left:265.00px;top:135.00px;width:11.00px;height:11.00px;background:#1c283c;box-shadow:inset 0 0 0 1px #5a6673;border-radius:2px;"></div><span class="t" style="left:279.70px;top:136.73px;font-size:10.0px;color:#c5cdd5;transform:scaleX(0.835173659907649);">Selected</span><div style="left:347.00px;top:135.00px;width:11.00px;height:11.00px;background:#172130;box-shadow:inset 0 0 0 1px #4f5a66;border-radius:2px;"></div><span class="t" style="left:361.50px;top:136.73px;font-size:10.0px;color:#6e7a86;transform:scaleX(0.870274335932861);">Selected disabled</span><span class="t" style="left:115.70px;top:157.23px;font-size:10.0px;color:#c5cdd5;transform:scaleX(0.8529336626075109);">Enabled</span><span class="t" style="left:198.00px;top:157.23px;font-size:10.0px;color:#6e7a86;transform:scaleX(0.86);">Disabled</span><span class="t" style="left:279.70px;top:157.23px;font-size:10.0px;color:#c5cdd5;transform:scaleX(0.835173659907649);">Selected</span><span class="t" style="left:361.50px;top:157.23px;font-size:10.0px;color:#6e7a86;transform:scaleX(0.870274335932861);">Selected disabled</span><div style="left:100.00px;top:175.00px;width:76.00px;height:17.00px;background:#162030;box-shadow:inset 0 0 0 1px #26324a;border-radius:2px;"></div><div style="left:160.00px;top:176.00px;width:15.00px;height:15.00px;background:#172130;"></div><div style="left:160.00px;top:176.00px;width:1.00px;height:15.00px;background:#26324a;"></div><span class="t" style="left:105.00px;top:179.23px;font-size:10.0px;color:#c5cdd5;transform:scaleX(0.8606390798633633);">Editable</span><div style="left:182.00px;top:175.00px;width:76.00px;height:17.00px;background:#172130;box-shadow:inset 0 0 0 1px #5a6673;border-radius:2px;"></div><div style="left:242.00px;top:176.00px;width:15.00px;height:15.00px;background:#172130;"></div><div style="left:242.00px;top:176.00px;width:1.00px;height:15.00px;background:#5a6673;"></div><span class="t" style="left:187.20px;top:179.23px;font-size:10.0px;color:#6e7a86;transform:scaleX(0.86);">Disabled</span><div style="left:264.00px;top:175.00px;width:76.00px;height:17.00px;background:#1d2a3c;box-shadow:inset 0 0 0 1px #26324a;border-radius:2px;"></div><span class="t" style="left:269.40px;top:179.23px;font-size:10.0px;color:#c5cdd5;transform:scaleX(0.9144463313228318);">Not editable</span><div style="left:346.00px;top:175.00px;width:112.00px;height:17.00px;background:#172130;box-shadow:inset 0 0 0 1px #5a6673;border-radius:2px;"></div><span class="t" style="left:351.60px;top:179.23px;font-size:10.0px;color:#6e7a86;transform:scaleX(0.9037158488230078);">Not editable disabled</span><div style="left:100.00px;top:198.00px;width:76.00px;height:17.00px;background:#162030;box-shadow:inset 0 0 0 1px #26324a;border-radius:2px;"></div><div style="left:160.00px;top:199.00px;width:15.00px;height:15.00px;background:#172130;"></div><div style="left:160.00px;top:199.00px;width:1.00px;height:15.00px;background:#26324a;"></div><span class="t" style="left:149.62px;top:202.23px;font-size:10.0px;color:#c5cdd5;transform:scaleX(0.86);">0</span><div style="left:182.00px;top:198.00px;width:76.00px;height:17.00px;background:#172130;box-shadow:inset 0 0 0 1px #5a6673;border-radius:2px;"></div><div style="left:242.00px;top:199.00px;width:15.00px;height:15.00px;background:#172130;"></div><div style="left:242.00px;top:199.00px;width:1.00px;height:15.00px;background:#5a6673;"></div><span class="t" style="left:231.62px;top:202.23px;font-size:10.0px;color:#6e7a86;transform:scaleX(0.86);">0</span><div style="left:98.00px;top:220.00px;width:79.00px;height:20.00px;background:#162030;box-shadow:inset 0 0 0 2px #19a3b0;border-radius:1.5px;"></div><span class="t" style="left:105.10px;top:225.23px;font-size:10.0px;color:#c5cdd5;transform:scaleX(0.8606390798633633);">Editable</span><div style="left:182.00px;top:221.00px;width:76.00px;height:17.00px;background:#172130;box-shadow:inset 0 0 0 1px #5a6673;border-radius:2px;"></div><span class="t" style="left:187.20px;top:225.23px;font-size:10.0px;color:#6e7a86;transform:scaleX(0.86);">Disabled</span><div style="left:264.00px;top:221.00px;width:76.00px;height:17.00px;background:#172130;box-shadow:inset 0 0 0 1px #5a6673;border-radius:2px;"></div><span class="t" style="left:269.20px;top:225.23px;font-size:10.0px;color:#c5cdd5;transform:scaleX(0.9144463313228318);">Not editable</span><div style="left:346.00px;top:221.00px;width:112.00px;height:17.00px;background:#172130;box-shadow:inset 0 0 0 1px #5a6673;border-radius:2px;"></div><span class="t" style="left:351.20px;top:225.23px;font-size:10.0px;color:#6e7a86;transform:scaleX(0.9037158488230078);">Not editable disabled</span><div style="left:100.00px;top:244.00px;width:76.00px;height:17.00px;background:#162030;box-shadow:inset 0 0 0 1px #26324a;border-radius:2px;"></div><div style="left:182.00px;top:244.00px;width:76.00px;height:17.00px;background:#172130;box-shadow:inset 0 0 0 1px #5a6673;border-radius:2px;"></div><div style="left:264.00px;top:244.00px;width:76.00px;height:17.00px;background:#172130;box-shadow:inset 0 0 0 1px #5a6673;border-radius:2px;"></div><div style="left:346.00px;top:244.00px;width:112.00px;height:17.00px;background:#172130;box-shadow:inset 0 0 0 1px #5a6673;border-radius:2px;"></div><div style="left:9.00px;top:276.00px;width:622.00px;height:1.00px;background:#2a3646;"></div><div style="left:9.00px;top:284.00px;width:90.00px;height:17.00px;background:#1d2a3c;box-shadow:inset 0 0 0 1px #26324a;border-radius:2px;"></div><span class="t" style="left:14.90px;top:288.23px;font-size:10.0px;color:#c5cdd5;transform:scaleX(0.86);">Carbon</span><div style="left:107.00px;top:286.00px;width:11.00px;height:11.00px;background:#1c283c;box-shadow:inset 0 0 0 1px #5a6673;border-radius:2px;"></div><span class="t" style="left:121.20px;top:288.23px;font-size:10.0px;color:#c5cdd5;transform:scaleX(0.9688409350989047);">right-to-left</span><div style="left:176.00px;top:286.00px;width:11.00px;height:11.00px;background:#1c283c;box-shadow:inset 0 0 0 1px #5a6673;border-radius:2px;"></div><span class="t" style="left:190.60px;top:288.23px;font-size:10.0px;color:#c5cdd5;transform:scaleX(0.8682824025289778);">enabled</span><span class="t" style="left:299.50px;top:288.23px;font-size:10.0px;color:#c5cdd5;transform:scaleX(0.8505195843325339);">(Java 1.8.0_202;  user scale factor 1.5; Segoe UI 18)</span><div style="left:575.00px;top:284.00px;width:56.00px;height:17.00px;background:#0b5e6c;border-radius:2.5px;"></div><span class="t" style="left:591.40px;top:288.23px;font-size:10.0px;color:#ffffff;transform:scaleX(0.8116141619326332);font-weight:bold;">Close</span><div style="left:0.00px;top:0.00px;width:640.00px;height:310.00px;box-shadow:inset 0 0 0 1px #223350;"></div><svg class="ov" width="640" height="310" viewBox="0 0 640 310"><path d="M9.6 14.8 V7.9 H12.6 M9.6 10.6 H12.1" fill="none" stroke="#fff4ea" stroke-width="1.5" /><path d="M13.6 10.4 V14.6 H15.9" fill="none" stroke="#fff4ea" stroke-width="1.3" /><path d="M553.2 11.6 H560.8" fill="none" stroke="#c0c6cc" stroke-width="1" /><path d="M586.1 8.6 H593.3 V15.2 H586.1 Z" fill="none" stroke="#c0c6cc" stroke-width="1" /><path d="M619 8.3 L626.5 15.5 M626.5 8.3 L619 15.5" fill="none" stroke="#c0c6cc" stroke-width="1" /><path d="M23.6 37 H15 M18.6 33.4 L15 37 L18.6 40.6" fill="none" stroke="#d0d6dc" stroke-width="1.7" /><path d="M34.4 37 H43 M39.4 33.4 L43 37 L39.4 40.6" fill="none" stroke="#d0d6dc" stroke-width="1.7" /><path d="M62 33.6 m-1.6 0 a1.6 1.6 0 1 0 3.2 0 a1.6 1.6 0 1 0 -3.2 0" fill="none" stroke="#d0d6dc" stroke-width="1.1" /><path d="M62 40.2 m-1.6 0 a1.6 1.6 0 1 0 3.2 0 a1.6 1.6 0 1 0 -3.2 0" fill="none" stroke="#d0d6dc" stroke-width="1.1" /><path d="M63.3 34.8 L70 41.8 M63.3 39 L69.6 32.3" fill="none" stroke="#d0d6dc" stroke-width="1.1" /><path d="M81 39 V32.2 H87.2" fill="none" stroke="#d0d6dc" stroke-width="1.1" /><path d="M83.4 34.6 H89.3 V41 H83.4 Z" fill="#8b96a0" stroke="#d0d6dc" stroke-width="1.2" /><path d="M101.8 33.2 H108.3 V40.9 H101.8 Z" fill="#172130" stroke="#d0d6dc" stroke-width="1.3" /><path d="M103.6 31.6 H106.5 V33.6 H103.6 Z" fill="#d0d6dc" /><path d="M134.9 35.4 A4.1 4.1 0 0 0 127.3 35.2 M127.1 38.4 A4.1 4.1 0 0 0 134.7 38.6" fill="none" stroke="#d0d6dc" stroke-width="1.5" /><path d="M126 33.4 V36.8 H129.4 Z" fill="#d0d6dc" /><path d="M136 40.6 V37.2 H132.6 Z" fill="#d0d6dc" /><path d="M152.2 37 C153.9 32.9 160.1 32.9 161.8 37 C160.1 41.1 153.9 41.1 152.2 37 Z" fill="none" stroke="#e8eef2" stroke-width="1.6" /><path d="M157 37 m-1.25 0 a1.25 1.25 0 1 0 2.5 0 a1.25 1.25 0 1 0 -2.5 0" fill="#e8eef2" /><path d="M549 64.2 V68.8" fill="none" stroke="#d0d6dc" stroke-width="1.4" /><path d="M545.9 68.1 H552.1 L549 71.2 Z" fill="#d0d6dc" /><path d="M8 0C3.58 0 0 3.58 0 8c0 3.54 2.29 6.53 5.47 7.59.4.07.55-.17.55-.38 0-.19-.01-.82-.01-1.49-2.01.37-2.53-.49-2.69-.94-.09-.23-.48-.94-.82-1.13-.28-.15-.68-.52-.01-.53.63-.01 1.08.58 1.23.82.72 1.21 1.87.87 2.33.66.07-.52.28-.87.51-1.07-1.78-.2-3.640-.89-3.64-3.95 0-.87.31-1.59.82-2.15-.08-.2-.36-1.020.08-2.12 0 0 .67-.21 2.2.82.64-.18 1.32-.27 2-.27.68 0 1.36.09 2 .27 1.53-1.04 2.2-.82 2.2-.82.44 1.1.16 1.92.08 2.12.51.56.82 1.27.82 2.15 0 3.07-1.87 3.75-3.65 3.95.29.25.54.73.54 1.48 0 1.07-.01 1.93-.01 2.200 0 .21.15.46.55.38A8.013 8.013 0 0016 8c0-4.42-3.58-8-8-8z" fill="#f0f0f0" transform="translate(563.6 63.5) scale(0.67)"/><path d="M619.30 67.35 H625.70 L622.50 70.95 Z" fill="#e0e6ea" /><path d="M411.60 116.50 C411.60 114.10 416.50 114.10 416.50 116.60 C416.50 118.30 414.00 118.40 414.00 120.60" fill="none" stroke="#e8eef2" stroke-width="1.3" /><path d="M413.25 121.60 h1.5 v1.5 h-1.5 Z" fill="#e8eef2" /><path d="M434.10 116.50 C434.10 114.10 439.00 114.10 439.00 116.60 C439.00 118.30 436.50 118.40 436.50 120.60" fill="none" stroke="#6e7a86" stroke-width="1.3" /><path d="M435.75 121.60 h1.5 v1.5 h-1.5 Z" fill="#6e7a86" /><path d="M267.4 140.6 L269.6 142.9 L273.8 137.8" fill="none" stroke="#e8eef2" stroke-width="1.4" /><path d="M349.4 140.6 L351.6 142.9 L355.8 137.8" fill="none" stroke="#8a96a2" stroke-width="1.3" /><circle cx="106.5" cy="161.6" r="5.1" fill="#1c283c" stroke="#5a6673" stroke-width="1"/><circle cx="188.5" cy="161.6" r="5.1" fill="#172130" stroke="#4f5a66" stroke-width="1"/><circle cx="270.5" cy="161.6" r="5.1" fill="#1c283c" stroke="#5a6673" stroke-width="1"/><circle cx="270.5" cy="161.6" r="1.9" fill="#e8eef2"/><circle cx="352.5" cy="161.6" r="5.1" fill="#172130" stroke="#4f5a66" stroke-width="1"/><circle cx="352.5" cy="161.6" r="1.7" fill="#8a96a2"/><path d="M164.20 181.80 H170.60 L167.40 185.40 Z" fill="#e0e6ea" /><path d="M246.30 181.80 H252.70 L249.50 185.40 Z" fill="#c0c6cc" /><path d="M328.30 181.80 H334.70 L331.50 185.40 Z" fill="#e0e6ea" /><path d="M446.30 181.80 H452.70 L449.50 185.40 Z" fill="#c0c6cc" /><path d="M164.20 206.1 H170.60 L167.40 202.3 Z" fill="#e0e6ea" /><path d="M164.20 207.8 H170.60 L167.40 211.7 Z" fill="#e0e6ea" /><path d="M246.20 206.1 H252.60 L249.40 202.3 Z" fill="#c0c6cc" /><path d="M246.20 207.8 H252.60 L249.40 211.7 Z" fill="#c0c6cc" /><path d="M105.60 252 h2 v2 h-2 Z M109.12 252 h2 v2 h-2 Z M112.64 252 h2 v2 h-2 Z M116.16 252 h2 v2 h-2 Z M119.68 252 h2 v2 h-2 Z M123.20 252 h2 v2 h-2 Z M126.72 252 h2 v2 h-2 Z M130.24 252 h2 v2 h-2 Z " fill="#e8eef2" /><path d="M187.40 252 h2 v2 h-2 Z M190.92 252 h2 v2 h-2 Z M194.44 252 h2 v2 h-2 Z M197.96 252 h2 v2 h-2 Z M201.48 252 h2 v2 h-2 Z M205.00 252 h2 v2 h-2 Z M208.52 252 h2 v2 h-2 Z M212.04 252 h2 v2 h-2 Z " fill="#a0a8b0" /><path d="M269.50 252 h2 v2 h-2 Z M273.02 252 h2 v2 h-2 Z M276.54 252 h2 v2 h-2 Z M280.06 252 h2 v2 h-2 Z M283.58 252 h2 v2 h-2 Z M287.10 252 h2 v2 h-2 Z M290.62 252 h2 v2 h-2 Z M294.14 252 h2 v2 h-2 Z M297.66 252 h2 v2 h-2 Z M301.18 252 h2 v2 h-2 Z M304.70 252 h2 v2 h-2 Z M308.22 252 h2 v2 h-2 Z " fill="#e8eef2" /><path d="M351.70 252 h2 v2 h-2 Z M355.22 252 h2 v2 h-2 Z M358.74 252 h2 v2 h-2 Z M362.26 252 h2 v2 h-2 Z M365.78 252 h2 v2 h-2 Z M369.30 252 h2 v2 h-2 Z M372.82 252 h2 v2 h-2 Z M376.34 252 h2 v2 h-2 Z M379.86 252 h2 v2 h-2 Z M383.38 252 h2 v2 h-2 Z M386.90 252 h2 v2 h-2 Z M390.42 252 h2 v2 h-2 Z M393.94 252 h2 v2 h-2 Z M397.46 252 h2 v2 h-2 Z M400.98 252 h2 v2 h-2 Z M404.50 252 h2 v2 h-2 Z M408.02 252 h2 v2 h-2 Z M411.54 252 h2 v2 h-2 Z M415.06 252 h2 v2 h-2 Z M418.58 252 h2 v2 h-2 Z M422.10 252 h2 v2 h-2 Z " fill="#a0a8b0" /><path d="M87.70 290.20 H94.10 L90.90 293.80 Z" fill="#e0e6ea" /><path d="M178.4 291.6 L180.6 293.9 L184.8 288.8" fill="none" stroke="#e8eef2" stroke-width="1.4" /></svg></div><div class="p" style="left:0px;top:630px;background:#eee8d5;"><div style="left:0.00px;top:0.00px;width:640.00px;height:24.00px;background:#eee8d5;"></div><div style="left:0.00px;top:23.00px;width:640.00px;height:1.00px;background:#d8d2bf;"></div><div style="left:6.00px;top:5.00px;width:13.00px;height:13.00px;background:#e35d00;border-radius:1.5px;"></div><span class="t" style="left:30.40px;top:7.73px;font-size:10.0px;color:#4f4f4f;transform:scaleX(0.813033359193173);">File</span><span class="t" style="left:55.70px;top:7.73px;font-size:10.0px;color:#4f4f4f;transform:scaleX(0.8298875589408778);">Edit</span><span class="t" style="left:82.70px;top:7.73px;font-size:10.0px;color:#4f4f4f;transform:scaleX(0.8467577784239605);">View</span><span class="t" style="left:113.00px;top:7.73px;font-size:10.0px;color:#4f4f4f;transform:scaleX(0.8846544318625537);">Font</span><span class="t" style="left:142.90px;top:7.73px;font-size:10.0px;color:#4f4f4f;transform:scaleX(0.93148945817275);">Options</span><span class="t" style="left:187.00px;top:7.73px;font-size:10.0px;color:#4f4f4f;transform:scaleX(0.8995593374867041);">Help</span><span class="t" style="left:358.20px;top:7.73px;font-size:10.0px;color:#6e6a5e;transform:scaleX(0.868039465805847);">FlatLaf Demo</span><div style="left:6.00px;top:32.00px;width:1.00px;height:1.00px;background:#9b9b9b;"></div><div style="left:6.00px;top:35.00px;width:1.00px;height:1.00px;background:#9b9b9b;"></div><div style="left:6.00px;top:38.00px;width:1.00px;height:1.00px;background:#9b9b9b;"></div><div style="left:6.00px;top:41.00px;width:1.00px;height:1.00px;background:#9b9b9b;"></div><div style="left:51.05px;top:29.30px;width:1.50px;height:15.40px;background:#dcd6c3;"></div><div style="left:117.05px;top:29.30px;width:1.50px;height:15.40px;background:#dcd6c3;"></div><div style="left:143.15px;top:29.30px;width:1.50px;height:15.40px;background:#dcd6c3;"></div><div style="left:148.60px;top:29.10px;width:16.50px;height:15.80px;background:#f7c97c;border-radius:1.5px;"></div><div style="left:9.00px;top:82.00px;width:476.00px;height:1.00px;background:#d6d0bd;"></div><div style="left:9.00px;top:82.00px;width:92.00px;height:2.00px;background:#3b7cc4;"></div><span class="t" style="left:18.10px;top:66.23px;font-size:10.0px;color:#4a5a66;transform:scaleX(0.8698080539161841);">Basic Components</span><span class="t" style="left:109.60px;top:66.23px;font-size:10.0px;color:#4a5a66;transform:scaleX(0.9081549303801075);">More Components</span><span class="t" style="left:202.00px;top:66.23px;font-size:10.0px;color:#4a5a66;transform:scaleX(0.9094821736685988);">Data Components</span><span class="t" style="left:292.90px;top:66.23px;font-size:10.0px;color:#4a5a66;transform:scaleX(0.881887172737182);">SplitPane &amp; Tabs</span><span class="t" style="left:377.80px;top:66.23px;font-size:10.0px;color:#4a5a66;transform:scaleX(0.8904128840046094);">Option Pane</span><span class="t" style="left:445.50px;top:66.23px;font-size:10.0px;color:#4a5a66;transform:scaleX(0.8010145007443348);">Extras</span><span class="t" style="left:494.30px;top:65.03px;font-size:10.0px;color:#4a5a66;transform:scaleX(0.8226551516368749);">Themes:</span><div style="left:544.50px;top:72.10px;width:9.10px;height:1.60px;background:#3d4d60;"></div><div style="left:586.00px;top:61.00px;width:45.00px;height:17.00px;background:#fdf6e3;box-shadow:inset 0 0 0 1px #c9c3b0;border-radius:2px;"></div><span class="t" style="left:591.80px;top:64.83px;font-size:10.0px;color:#4a5a66;transform:scaleX(0.86);">all</span><div style="left:494px;top:82px;width:137px;height:185px;background:#fdf6e3;overflow:hidden;"><div style="left:1px;top:137.50px;width:127px;height:14.5px;background:#d6d4c6;"></div><span class="t" style="left:5.70px;top:-4.46px;font-size:10.0px;color:#4a5a66;transform:scaleX(0.88);">Gruvbox Dark Medium</span><span class="t" style="left:5.70px;top:10.04px;font-size:10.0px;color:#4a5a66;transform:scaleX(0.88);">Gruvbox Dark Soft</span><span class="t" style="left:5.70px;top:24.54px;font-size:10.0px;color:#4a5a66;transform:scaleX(0.88);">Hiberbee Dark</span><span class="t" style="left:5.70px;top:39.04px;font-size:10.0px;color:#4a5a66;transform:scaleX(0.88);">High contrast</span><span class="t" style="left:5.70px;top:53.54px;font-size:10.0px;color:#4a5a66;transform:scaleX(0.88);">Light Flat</span><span class="t" style="left:5.70px;top:68.04px;font-size:10.0px;color:#4a5a66;transform:scaleX(0.88);">Material Design Dark</span><span class="t" style="left:5.70px;top:82.54px;font-size:10.0px;color:#4a5a66;transform:scaleX(0.88);">Monocai</span><span class="t" style="left:5.70px;top:97.04px;font-size:10.0px;color:#4a5a66;transform:scaleX(0.88);">Nord</span><span class="t" style="left:5.70px;top:111.54px;font-size:10.0px;color:#4a5a66;transform:scaleX(0.88);">One Dark</span><span class="t" style="left:5.70px;top:126.04px;font-size:10.0px;color:#4a5a66;transform:scaleX(0.88);">Solarized Dark</span><span class="t" style="left:5.70px;top:140.54px;font-size:10.0px;color:#4a5a66;transform:scaleX(0.88);">Solarized Light</span><span class="t" style="left:5.70px;top:155.04px;font-size:10.0px;color:#4a5a66;transform:scaleX(0.88);">Spacegray</span><span class="t" style="left:5.70px;top:169.54px;font-size:10.0px;color:#4a5a66;transform:scaleX(0.88);">Vuesion</span><div style="left:4.00px;top:186.45px;width:14.09px;height:1.4px;background:#aaa69a;"></div><div style="left:111.31px;top:186.45px;width:14.09px;height:1.4px;background:#aaa69a;"></div><span class="t" style="left:21.29px;top:182.79px;font-size:10.0px;color:#aaa69a;transform:scaleX(0.86);">Material Theme UI Lite</span><span class="t" style="left:5.70px;top:196.34px;font-size:10.0px;color:#4a5a66;transform:scaleX(0.88);">Arc Dark (Material)</span><div style="left:128.5px;top:1px;width:8px;height:183px;background:#f4eee0;"></div><div style="left:128.5px;top:65.17px;width:7.5px;height:34px;background:#d9d6cc;"></div></div><div style="left:494.00px;top:82.00px;width:137.00px;height:185.00px;box-shadow:inset 0 0 0 1px #c9c3b0;"></div><span class="t" style="left:17.50px;top:94.23px;font-size:10.0px;color:#4a5a66;transform:scaleX(0.7939523163403761);">JLabel:</span><span class="t" style="left:17.50px;top:114.73px;font-size:10.0px;color:#4a5a66;transform:scaleX(0.86);">JButton:</span><span class="t" style="left:17.50px;top:136.73px;font-size:10.0px;color:#4a5a66;transform:scaleX(0.86);">JCheckBox</span><span class="t" style="left:17.50px;top:157.23px;font-size:10.0px;color:#4a5a66;transform:scaleX(0.86);">JRadioButton:</span><span class="t" style="left:17.50px;top:179.23px;font-size:10.0px;color:#4a5a66;transform:scaleX(0.86);">JComboBox:</span><span class="t" style="left:17.50px;top:202.23px;font-size:10.0px;color:#4a5a66;transform:scaleX(0.86);">JSpinner:</span><span class="t" style="left:17.50px;top:225.23px;font-size:10.0px;color:#4a5a66;transform:scaleX(0.86);">JTextField:</span><span class="t" style="left:17.50px;top:248.23px;font-size:10.0px;color:#4a5a66;transform:scaleX(0.8424640027264206);">JPasswordField:</span><span class="t" style="left:99.70px;top:94.23px;font-size:10.0px;color:#4a5a66;transform:scaleX(0.8529336626075109);">Enabled</span><span class="t" style="left:181.90px;top:94.23px;font-size:10.0px;color:#aaa69a;transform:scaleX(0.86);">Disabled</span><div style="left:100.00px;top:110.00px;width:54.00px;height:17.00px;background:#fdf6e3;box-shadow:inset 0 0 0 1px #c9c3b0;border-radius:2px;"></div><span class="t" style="left:111.10px;top:114.73px;font-size:10.0px;color:#4a5a66;transform:scaleX(0.8529336626075109);">Enabled</span><div style="left:182.00px;top:110.00px;width:57.00px;height:17.00px;background:#eee8d5;box-shadow:inset 0 0 0 1px #d6d0bd;border-radius:2px;"></div><span class="t" style="left:193.52px;top:114.73px;font-size:10.0px;color:#aaa69a;transform:scaleX(0.86);">Disabled</span><div style="left:264.00px;top:110.00px;width:54.00px;height:17.00px;background:#fdf6e3;box-shadow:inset 0 0 0 1px #c9c3b0;"></div><span class="t" style="left:277.05px;top:114.73px;font-size:10.0px;color:#4a5a66;transform:scaleX(0.8466757123473542);">Square</span><div style="left:346.00px;top:110.00px;width:54.00px;height:17.00px;background:#fdf6e3;box-shadow:inset 0 0 0 1px #c9c3b0;border-radius:9px;"></div><span class="t" style="left:359.55px;top:114.73px;font-size:10.0px;color:#4a5a66;transform:scaleX(0.8891717043164704);">Round</span><div style="left:406.00px;top:111.00px;width:16.00px;height:16.00px;background:#fdf6e3;box-shadow:inset 0 0 0 1px #c9c3b0;border-radius:8px;"></div><div style="left:428.00px;top:111.00px;width:16.00px;height:16.00px;background:#eee8d5;box-shadow:inset 0 0 0 1px #d6d0bd;border-radius:8px;"></div><div style="left:101.00px;top:135.00px;width:11.00px;height:11.00px;background:#ffffff;box-shadow:inset 0 0 0 1px #b8b2a0;border-radius:1.5px;"></div><span class="t" style="left:115.70px;top:136.73px;font-size:10.0px;color:#4a5a66;transform:scaleX(0.8529336626075109);">Enabled</span><div style="left:183.00px;top:135.00px;width:11.00px;height:11.00px;background:#eee8d5;box-shadow:inset 0 0 0 1px #d6d0bd;border-radius:1.5px;"></div><span class="t" style="left:198.00px;top:136.73px;font-size:10.0px;color:#aaa69a;transform:scaleX(0.86);">Disabled</span><div style="left:265.00px;top:135.00px;width:11.00px;height:11.00px;background:#3b7cc4;box-shadow:inset 0 0 0 1px #3b7cc4;border-radius:1.5px;"></div><span class="t" style="left:279.70px;top:136.73px;font-size:10.0px;color:#4a5a66;transform:scaleX(0.835173659907649);">Selected</span><div style="left:347.00px;top:135.00px;width:11.00px;height:11.00px;background:#eee8d5;box-shadow:inset 0 0 0 1px #d6d0bd;border-radius:1.5px;"></div><span class="t" style="left:361.50px;top:136.73px;font-size:10.0px;color:#aaa69a;transform:scaleX(0.870274335932861);">Selected disabled</span><span class="t" style="left:115.70px;top:157.23px;font-size:10.0px;color:#4a5a66;transform:scaleX(0.8529336626075109);">Enabled</span><span class="t" style="left:198.00px;top:157.23px;font-size:10.0px;color:#aaa69a;transform:scaleX(0.86);">Disabled</span><span class="t" style="left:279.70px;top:157.23px;font-size:10.0px;color:#4a5a66;transform:scaleX(0.835173659907649);">Selected</span><span class="t" style="left:361.50px;top:157.23px;font-size:10.0px;color:#aaa69a;transform:scaleX(0.870274335932861);">Selected disabled</span><div style="left:100.00px;top:175.00px;width:76.00px;height:17.00px;background:#fdf6e3;box-shadow:inset 0 0 0 1px #c9c3b0;border-radius:2px;"></div><div style="left:160.00px;top:176.00px;width:15.00px;height:15.00px;background:#fdf6e3;"></div><div style="left:160.00px;top:176.00px;width:1.00px;height:15.00px;background:#c9c3b0;"></div><span class="t" style="left:105.00px;top:179.23px;font-size:10.0px;color:#4a5a66;transform:scaleX(0.8606390798633633);">Editable</span><div style="left:182.00px;top:175.00px;width:76.00px;height:17.00px;background:#eee8d5;box-shadow:inset 0 0 0 1px #d6d0bd;border-radius:2px;"></div><div style="left:242.00px;top:176.00px;width:15.00px;height:15.00px;background:#eee8d5;"></div><div style="left:242.00px;top:176.00px;width:1.00px;height:15.00px;background:#d6d0bd;"></div><span class="t" style="left:187.20px;top:179.23px;font-size:10.0px;color:#aaa69a;transform:scaleX(0.86);">Disabled</span><div style="left:264.00px;top:175.00px;width:76.00px;height:17.00px;background:#fdf6e3;box-shadow:inset 0 0 0 1px #c9c3b0;border-radius:2px;"></div><span class="t" style="left:269.40px;top:179.23px;font-size:10.0px;color:#4a5a66;transform:scaleX(0.9144463313228318);">Not editable</span><div style="left:346.00px;top:175.00px;width:112.00px;height:17.00px;background:#eee8d5;box-shadow:inset 0 0 0 1px #d6d0bd;border-radius:2px;"></div><span class="t" style="left:351.60px;top:179.23px;font-size:10.0px;color:#aaa69a;transform:scaleX(0.9037158488230078);">Not editable disabled</span><div style="left:100.00px;top:198.00px;width:76.00px;height:17.00px;background:#fdf6e3;box-shadow:inset 0 0 0 1px #c9c3b0;border-radius:2px;"></div><div style="left:160.00px;top:199.00px;width:15.00px;height:15.00px;background:#fdf6e3;"></div><div style="left:160.00px;top:199.00px;width:1.00px;height:15.00px;background:#c9c3b0;"></div><span class="t" style="left:149.62px;top:202.23px;font-size:10.0px;color:#4a5a66;transform:scaleX(0.86);">0</span><div style="left:182.00px;top:198.00px;width:76.00px;height:17.00px;background:#eee8d5;box-shadow:inset 0 0 0 1px #d6d0bd;border-radius:2px;"></div><div style="left:242.00px;top:199.00px;width:15.00px;height:15.00px;background:#eee8d5;"></div><div style="left:242.00px;top:199.00px;width:1.00px;height:15.00px;background:#d6d0bd;"></div><span class="t" style="left:231.62px;top:202.23px;font-size:10.0px;color:#aaa69a;transform:scaleX(0.86);">0</span><div style="left:98.00px;top:220.00px;width:79.00px;height:20.00px;background:#fdf6e3;box-shadow:inset 0 0 0 2px #7aaade;border-radius:1.5px;"></div><span class="t" style="left:105.10px;top:225.23px;font-size:10.0px;color:#4a5a66;transform:scaleX(0.8606390798633633);">Editable</span><div style="left:136.20px;top:223.40px;width:1.20px;height:12.60px;background:#000000;"></div><div style="left:182.00px;top:221.00px;width:76.00px;height:17.00px;background:#eee8d5;box-shadow:inset 0 0 0 1px #d6d0bd;border-radius:2px;"></div><span class="t" style="left:187.20px;top:225.23px;font-size:10.0px;color:#aaa69a;transform:scaleX(0.86);">Disabled</span><div style="left:264.00px;top:221.00px;width:76.00px;height:17.00px;background:#eee8d5;box-shadow:inset 0 0 0 1px #c9c3b0;border-radius:2px;"></div><span class="t" style="left:269.20px;top:225.23px;font-size:10.0px;color:#4a5a66;transform:scaleX(0.9144463313228318);">Not editable</span><div style="left:346.00px;top:221.00px;width:112.00px;height:17.00px;background:#eee8d5;box-shadow:inset 0 0 0 1px #d6d0bd;border-radius:2px;"></div><span class="t" style="left:351.20px;top:225.23px;font-size:10.0px;color:#aaa69a;transform:scaleX(0.9037158488230078);">Not editable disabled</span><div style="left:100.00px;top:244.00px;width:76.00px;height:17.00px;background:#fdf6e3;box-shadow:inset 0 0 0 1px #c9c3b0;border-radius:2px;"></div><div style="left:182.00px;top:244.00px;width:76.00px;height:17.00px;background:#eee8d5;box-shadow:inset 0 0 0 1px #d6d0bd;border-radius:2px;"></div><div style="left:264.00px;top:244.00px;width:76.00px;height:17.00px;background:#eee8d5;box-shadow:inset 0 0 0 1px #c9c3b0;border-radius:2px;"></div><div style="left:346.00px;top:244.00px;width:112.00px;height:17.00px;background:#eee8d5;box-shadow:inset 0 0 0 1px #d6d0bd;border-radius:2px;"></div><div style="left:9.00px;top:276.00px;width:622.00px;height:1.00px;background:#c4c2b8;"></div><div style="left:9.00px;top:284.00px;width:90.00px;height:17.00px;background:#fdf6e3;box-shadow:inset 0 0 0 1px #c9c3b0;border-radius:2px;"></div><span class="t" style="left:14.90px;top:288.23px;font-size:10.0px;color:#4a5a66;transform:scaleX(0.86);">Solarized Light</span><div style="left:107.00px;top:286.00px;width:11.00px;height:11.00px;background:#ffffff;box-shadow:inset 0 0 0 1px #b8b2a0;border-radius:1.5px;"></div><span class="t" style="left:121.20px;top:288.23px;font-size:10.0px;color:#4a5a66;transform:scaleX(0.9688409350989047);">right-to-left</span><div style="left:176.00px;top:286.00px;width:11.00px;height:11.00px;background:#3b7cc4;box-shadow:inset 0 0 0 1px #3b7cc4;border-radius:1.5px;"></div><span class="t" style="left:190.60px;top:288.23px;font-size:10.0px;color:#4a5a66;transform:scaleX(0.8682824025289778);">enabled</span><span class="t" style="left:299.50px;top:288.23px;font-size:10.0px;color:#4a5a66;transform:scaleX(0.8505195843325339);">(Java 1.8.0_202;  user scale factor 1.5; Segoe UI 18)</span><div style="left:575.00px;top:284.00px;width:56.00px;height:17.00px;background:#4682c0;box-shadow:inset 0 0 0 1px #2f6cb2;border-radius:2.5px;"></div><span class="t" style="left:591.40px;top:288.23px;font-size:10.0px;color:#ffffff;transform:scaleX(0.8116141619326332);font-weight:bold;">Close</span><div style="left:0.00px;top:0.00px;width:640.00px;height:310.00px;box-shadow:inset 0 0 0 1px #9a9a9a;"></div><svg class="ov" width="640" height="310" viewBox="0 0 640 310"><path d="M9.6 14.8 V7.9 H12.6 M9.6 10.6 H12.1" fill="none" stroke="#fff4ea" stroke-width="1.5" /><path d="M13.6 10.4 V14.6 H15.9" fill="none" stroke="#fff4ea" stroke-width="1.3" /><path d="M553.2 11.6 H560.8" fill="none" stroke="#8a8679" stroke-width="1" /><path d="M586.1 8.6 H593.3 V15.2 H586.1 Z" fill="none" stroke="#8a8679" stroke-width="1" /><path d="M619 8.3 L626.5 15.5 M626.5 8.3 L619 15.5" fill="none" stroke="#8a8679" stroke-width="1" /><path d="M23.6 37 H15 M18.6 33.4 L15 37 L18.6 40.6" fill="none" stroke="#505a60" stroke-width="1.7" /><path d="M34.4 37 H43 M39.4 33.4 L43 37 L39.4 40.6" fill="none" stroke="#505a60" stroke-width="1.7" /><path d="M62 33.6 m-1.6 0 a1.6 1.6 0 1 0 3.2 0 a1.6 1.6 0 1 0 -3.2 0" fill="none" stroke="#505a60" stroke-width="1.1" /><path d="M62 40.2 m-1.6 0 a1.6 1.6 0 1 0 3.2 0 a1.6 1.6 0 1 0 -3.2 0" fill="none" stroke="#505a60" stroke-width="1.1" /><path d="M63.3 34.8 L70 41.8 M63.3 39 L69.6 32.3" fill="none" stroke="#505a60" stroke-width="1.1" /><path d="M81 39 V32.2 H87.2" fill="none" stroke="#505a60" stroke-width="1.1" /><path d="M83.4 34.6 H89.3 V41 H83.4 Z" fill="#a8a8a0" stroke="#505a60" stroke-width="1.2" /><path d="M101.8 33.2 H108.3 V40.9 H101.8 Z" fill="#fdf6e3" stroke="#505a60" stroke-width="1.3" /><path d="M103.6 31.6 H106.5 V33.6 H103.6 Z" fill="#505a60" /><path d="M134.9 35.4 A4.1 4.1 0 0 0 127.3 35.2 M127.1 38.4 A4.1 4.1 0 0 0 134.7 38.6" fill="none" stroke="#505a60" stroke-width="1.5" /><path d="M126 33.4 V36.8 H129.4 Z" fill="#505a60" /><path d="M136 40.6 V37.2 H132.6 Z" fill="#505a60" /><path d="M152.2 37 C153.9 32.9 160.1 32.9 161.8 37 C160.1 41.1 153.9 41.1 152.2 37 Z" fill="none" stroke="#505a60" stroke-width="1.6" /><path d="M157 37 m-1.25 0 a1.25 1.25 0 1 0 2.5 0 a1.25 1.25 0 1 0 -2.5 0" fill="#505a60" /><path d="M549 64.2 V68.8" fill="none" stroke="#4d5d6e" stroke-width="1.4" /><path d="M545.9 68.1 H552.1 L549 71.2 Z" fill="#4d5d6e" /><path d="M8 0C3.58 0 0 3.58 0 8c0 3.54 2.29 6.53 5.47 7.59.4.07.55-.17.55-.38 0-.19-.01-.82-.01-1.49-2.01.37-2.53-.49-2.69-.94-.09-.23-.48-.94-.82-1.13-.28-.15-.68-.52-.01-.53.63-.01 1.08.58 1.23.82.72 1.21 1.87.87 2.33.66.07-.52.28-.87.51-1.07-1.78-.2-3.640-.89-3.64-3.95 0-.87.31-1.59.82-2.15-.08-.2-.36-1.020.08-2.12 0 0 .67-.21 2.2.82.64-.18 1.32-.27 2-.27.68 0 1.36.09 2 .27 1.53-1.04 2.2-.82 2.2-.82.44 1.1.16 1.92.08 2.12.51.56.82 1.27.82 2.15 0 3.07-1.87 3.75-3.65 3.95.29.25.54.73.54 1.48 0 1.07-.01 1.93-.01 2.200 0 .21.15.46.55.38A8.013 8.013 0 0016 8c0-4.42-3.58-8-8-8z" fill="#111111" transform="translate(563.6 63.5) scale(0.67)"/><path d="M619.30 67.35 H625.70 L622.50 70.95 Z" fill="#3d4d60" /><path d="M411.60 116.50 C411.60 114.10 416.50 114.10 416.50 116.60 C416.50 118.30 414.00 118.40 414.00 120.60" fill="none" stroke="#2f7ad6" stroke-width="1.3" /><path d="M413.25 121.60 h1.5 v1.5 h-1.5 Z" fill="#2f7ad6" /><path d="M434.10 116.50 C434.10 114.10 439.00 114.10 439.00 116.60 C439.00 118.30 436.50 118.40 436.50 120.60" fill="none" stroke="#a0a0a0" stroke-width="1.3" /><path d="M435.75 121.60 h1.5 v1.5 h-1.5 Z" fill="#a0a0a0" /><path d="M267.4 140.6 L269.6 142.9 L273.8 137.8" fill="none" stroke="#ffffff" stroke-width="1.4" /><path d="M349.4 140.6 L351.6 142.9 L355.8 137.8" fill="none" stroke="#aaa69a" stroke-width="1.3" /><circle cx="106.5" cy="161.6" r="5.1" fill="#ffffff" stroke="#b8b2a0" stroke-width="1"/><circle cx="188.5" cy="161.6" r="5.1" fill="#eee8d5" stroke="#d6d0bd" stroke-width="1"/><circle cx="270.5" cy="161.6" r="5.1" fill="#3b7cc4" stroke="#3b7cc4" stroke-width="1"/><circle cx="270.5" cy="161.6" r="1.9" fill="#ffffff"/><circle cx="352.5" cy="161.6" r="5.1" fill="#eee8d5" stroke="#d6d0bd" stroke-width="1"/><circle cx="352.5" cy="161.6" r="1.7" fill="#aaa69a"/><path d="M164.20 181.80 H170.60 L167.40 185.40 Z" fill="#3d4d60" /><path d="M246.30 181.80 H252.70 L249.50 185.40 Z" fill="#aaa69a" /><path d="M328.30 181.80 H334.70 L331.50 185.40 Z" fill="#3d4d60" /><path d="M446.30 181.80 H452.70 L449.50 185.40 Z" fill="#aaa69a" /><path d="M164.20 206.1 H170.60 L167.40 202.3 Z" fill="#3d4d60" /><path d="M164.20 207.8 H170.60 L167.40 211.7 Z" fill="#3d4d60" /><path d="M246.20 206.1 H252.60 L249.40 202.3 Z" fill="#aaa69a" /><path d="M246.20 207.8 H252.60 L249.40 211.7 Z" fill="#aaa69a" /><path d="M105.60 252 h2 v2 h-2 Z M109.12 252 h2 v2 h-2 Z M112.64 252 h2 v2 h-2 Z M116.16 252 h2 v2 h-2 Z M119.68 252 h2 v2 h-2 Z M123.20 252 h2 v2 h-2 Z M126.72 252 h2 v2 h-2 Z M130.24 252 h2 v2 h-2 Z " fill="#111111" /><path d="M187.40 252 h2 v2 h-2 Z M190.92 252 h2 v2 h-2 Z M194.44 252 h2 v2 h-2 Z M197.96 252 h2 v2 h-2 Z M201.48 252 h2 v2 h-2 Z M205.00 252 h2 v2 h-2 Z M208.52 252 h2 v2 h-2 Z M212.04 252 h2 v2 h-2 Z " fill="#8c8c8c" /><path d="M269.50 252 h2 v2 h-2 Z M273.02 252 h2 v2 h-2 Z M276.54 252 h2 v2 h-2 Z M280.06 252 h2 v2 h-2 Z M283.58 252 h2 v2 h-2 Z M287.10 252 h2 v2 h-2 Z M290.62 252 h2 v2 h-2 Z M294.14 252 h2 v2 h-2 Z M297.66 252 h2 v2 h-2 Z M301.18 252 h2 v2 h-2 Z M304.70 252 h2 v2 h-2 Z M308.22 252 h2 v2 h-2 Z " fill="#111111" /><path d="M351.70 252 h2 v2 h-2 Z M355.22 252 h2 v2 h-2 Z M358.74 252 h2 v2 h-2 Z M362.26 252 h2 v2 h-2 Z M365.78 252 h2 v2 h-2 Z M369.30 252 h2 v2 h-2 Z M372.82 252 h2 v2 h-2 Z M376.34 252 h2 v2 h-2 Z M379.86 252 h2 v2 h-2 Z M383.38 252 h2 v2 h-2 Z M386.90 252 h2 v2 h-2 Z M390.42 252 h2 v2 h-2 Z M393.94 252 h2 v2 h-2 Z M397.46 252 h2 v2 h-2 Z M400.98 252 h2 v2 h-2 Z M404.50 252 h2 v2 h-2 Z M408.02 252 h2 v2 h-2 Z M411.54 252 h2 v2 h-2 Z M415.06 252 h2 v2 h-2 Z M418.58 252 h2 v2 h-2 Z M422.10 252 h2 v2 h-2 Z " fill="#8c8c8c" /><path d="M87.70 290.20 H94.10 L90.90 293.80 Z" fill="#3d4d60" /><path d="M178.4 291.6 L180.6 293.9 L184.8 288.8" fill="none" stroke="#ffffff" stroke-width="1.4" /></svg></div><div class="p" style="left:645px;top:630px;background:#2c2b3b;"><div style="left:0.00px;top:0.00px;width:640.00px;height:24.00px;background:#2c2b3b;"></div><div style="left:0.00px;top:23.00px;width:640.00px;height:1.00px;background:#1f1e2a;"></div><div style="left:6.00px;top:5.00px;width:13.00px;height:13.00px;background:#e35d00;border-radius:1.5px;"></div><span class="t" style="left:30.40px;top:7.73px;font-size:10.0px;color:#c0bfcc;transform:scaleX(0.813033359193173);">File</span><span class="t" style="left:55.70px;top:7.73px;font-size:10.0px;color:#c0bfcc;transform:scaleX(0.8298875589408778);">Edit</span><span class="t" style="left:82.70px;top:7.73px;font-size:10.0px;color:#c0bfcc;transform:scaleX(0.8467577784239605);">View</span><span class="t" style="left:113.00px;top:7.73px;font-size:10.0px;color:#c0bfcc;transform:scaleX(0.8846544318625537);">Font</span><span class="t" style="left:142.90px;top:7.73px;font-size:10.0px;color:#c0bfcc;transform:scaleX(0.93148945817275);">Options</span><span class="t" style="left:187.00px;top:7.73px;font-size:10.0px;color:#c0bfcc;transform:scaleX(0.8995593374867041);">Help</span><span class="t" style="left:358.20px;top:7.73px;font-size:10.0px;color:#c0bfcc;transform:scaleX(0.868039465805847);">FlatLaf Demo</span><div style="left:6.00px;top:32.00px;width:1.00px;height:1.00px;background:#a0a0aa;"></div><div style="left:6.00px;top:35.00px;width:1.00px;height:1.00px;background:#a0a0aa;"></div><div style="left:6.00px;top:38.00px;width:1.00px;height:1.00px;background:#a0a0aa;"></div><div style="left:6.00px;top:41.00px;width:1.00px;height:1.00px;background:#a0a0aa;"></div><div style="left:51.05px;top:29.30px;width:1.50px;height:15.40px;background:#3a394a;"></div><div style="left:117.05px;top:29.30px;width:1.50px;height:15.40px;background:#3a394a;"></div><div style="left:143.15px;top:29.30px;width:1.50px;height:15.40px;background:#3a394a;"></div><div style="left:148.60px;top:29.10px;width:16.50px;height:15.80px;background:#4b4862;border-radius:1.5px;"></div><div style="left:9.00px;top:82.00px;width:476.00px;height:1.00px;background:#1f1e2a;"></div><div style="left:9.00px;top:82.00px;width:92.00px;height:2.00px;background:#9b4fd6;"></div><span class="t" style="left:18.10px;top:66.23px;font-size:10.0px;color:#c8c8d4;transform:scaleX(0.8698080539161841);">Basic Components</span><span class="t" style="left:109.60px;top:66.23px;font-size:10.0px;color:#c8c8d4;transform:scaleX(0.9081549303801075);">More Components</span><span class="t" style="left:202.00px;top:66.23px;font-size:10.0px;color:#c8c8d4;transform:scaleX(0.9094821736685988);">Data Components</span><span class="t" style="left:292.90px;top:66.23px;font-size:10.0px;color:#c8c8d4;transform:scaleX(0.881887172737182);">SplitPane &amp; Tabs</span><span class="t" style="left:377.80px;top:66.23px;font-size:10.0px;color:#c8c8d4;transform:scaleX(0.8904128840046094);">Option Pane</span><span class="t" style="left:445.50px;top:66.23px;font-size:10.0px;color:#c8c8d4;transform:scaleX(0.8010145007443348);">Extras</span><span class="t" style="left:494.30px;top:65.03px;font-size:10.0px;color:#c8c8d4;transform:scaleX(0.8226551516368749);">Themes:</span><div style="left:544.50px;top:72.10px;width:9.10px;height:1.60px;background:#e6e6ee;"></div><div style="left:586.00px;top:61.00px;width:45.00px;height:17.00px;background:#3a3950;box-shadow:inset 0 0 0 1px #46445c;border-radius:2px;"></div><span class="t" style="left:591.80px;top:64.83px;font-size:10.0px;color:#c8c8d4;transform:scaleX(0.86);">all</span><div style="left:494px;top:82px;width:137px;height:185px;background:#2c2b3b;overflow:hidden;"><div style="left:1px;top:132.70px;width:127px;height:14.5px;background:#3f3c55;"></div><div style="left:4.00px;top:-16.95px;width:24.77px;height:1.4px;background:#5f5e72;"></div><div style="left:100.63px;top:-16.95px;width:24.77px;height:1.4px;background:#5f5e72;"></div><span class="t" style="left:31.97px;top:-20.62px;font-size:10.0px;color:#77768a;transform:scaleX(0.86);">Current Directory</span><span class="t" style="left:5.70px;top:-7.07px;font-size:10.0px;color:#c8c8d4;transform:scaleX(0.88);">DemoLaf</span><div style="left:4.00px;top:9.85px;width:28.66px;height:1.4px;background:#5f5e72;"></div><div style="left:96.74px;top:9.85px;width:28.66px;height:1.4px;background:#5f5e72;"></div><span class="t" style="left:35.86px;top:6.18px;font-size:10.0px;color:#77768a;transform:scaleX(0.86);">IntelliJ Themes</span><span class="t" style="left:5.70px;top:19.73px;font-size:10.0px;color:#c8c8d4;transform:scaleX(0.88);">Arc</span><span class="t" style="left:5.70px;top:34.23px;font-size:10.0px;color:#c8c8d4;transform:scaleX(0.88);">Arc - Orange</span><span class="t" style="left:5.70px;top:48.73px;font-size:10.0px;color:#c8c8d4;transform:scaleX(0.88);">Arc Dark</span><span class="t" style="left:5.70px;top:63.23px;font-size:10.0px;color:#c8c8d4;transform:scaleX(0.88);">Arc Dark - Orange</span><span class="t" style="left:5.70px;top:77.73px;font-size:10.0px;color:#c8c8d4;transform:scaleX(0.88);">Carbon</span><span class="t" style="left:5.70px;top:92.23px;font-size:10.0px;color:#c8c8d4;transform:scaleX(0.88);">Cobalt 2</span><span class="t" style="left:5.70px;top:106.73px;font-size:10.0px;color:#c8c8d4;transform:scaleX(0.88);">Cyan light</span><span class="t" style="left:5.70px;top:121.23px;font-size:10.0px;color:#c8c8d4;transform:scaleX(0.88);">Dark Flat</span><span class="t" style="left:5.70px;top:135.73px;font-size:10.0px;color:#d0d0dc;transform:scaleX(0.88);">Dark purple</span><span class="t" style="left:5.70px;top:150.23px;font-size:10.0px;color:#c8c8d4;transform:scaleX(0.88);">Dracula</span><span class="t" style="left:5.70px;top:164.73px;font-size:10.0px;color:#c8c8d4;transform:scaleX(0.88);">Gradianto Dark Fuchsia</span><span class="t" style="left:5.70px;top:179.23px;font-size:10.0px;color:#c8c8d4;transform:scaleX(0.88);">Gradianto Deep Ocean</span><span class="t" style="left:5.70px;top:193.73px;font-size:10.0px;color:#c8c8d4;transform:scaleX(0.88);">Gradianto Midnight Blue</span><div style="left:128.5px;top:1px;width:8px;height:183px;background:#302f40;"></div><div style="left:128.5px;top:18.54px;width:7.5px;height:34px;background:#4a495e;"></div></div><div style="left:494.00px;top:82.00px;width:137.00px;height:185.00px;box-shadow:inset 0 0 0 1px #44435a;"></div><span class="t" style="left:17.50px;top:94.23px;font-size:10.0px;color:#c8c8d4;transform:scaleX(0.7939523163403761);">JLabel:</span><span class="t" style="left:17.50px;top:114.73px;font-size:10.0px;color:#c8c8d4;transform:scaleX(0.86);">JButton:</span><span class="t" style="left:17.50px;top:136.73px;font-size:10.0px;color:#c8c8d4;transform:scaleX(0.86);">JCheckBox</span><span class="t" style="left:17.50px;top:157.23px;font-size:10.0px;color:#c8c8d4;transform:scaleX(0.86);">JRadioButton:</span><span class="t" style="left:17.50px;top:179.23px;font-size:10.0px;color:#c8c8d4;transform:scaleX(0.86);">JComboBox:</span><span class="t" style="left:17.50px;top:202.23px;font-size:10.0px;color:#c8c8d4;transform:scaleX(0.86);">JSpinner:</span><span class="t" style="left:17.50px;top:225.23px;font-size:10.0px;color:#c8c8d4;transform:scaleX(0.86);">JTextField:</span><span class="t" style="left:17.50px;top:248.23px;font-size:10.0px;color:#c8c8d4;transform:scaleX(0.8424640027264206);">JPasswordField:</span><span class="t" style="left:99.70px;top:94.23px;font-size:10.0px;color:#c8c8d4;transform:scaleX(0.8529336626075109);">Enabled</span><span class="t" style="left:181.90px;top:94.23px;font-size:10.0px;color:#6f6e80;transform:scaleX(0.86);">Disabled</span><div style="left:100.00px;top:110.00px;width:54.00px;height:17.00px;background:#4a4563;box-shadow:inset 0 0 0 1px #5a5576;border-radius:2px;"></div><span class="t" style="left:111.10px;top:114.73px;font-size:10.0px;color:#dcdce6;transform:scaleX(0.8529336626075109);">Enabled</span><div style="left:182.00px;top:110.00px;width:57.00px;height:17.00px;background:#2c2b3b;box-shadow:inset 0 0 0 1px #3f3e52;border-radius:2px;"></div><span class="t" style="left:193.52px;top:114.73px;font-size:10.0px;color:#6f6e80;transform:scaleX(0.86);">Disabled</span><div style="left:264.00px;top:110.00px;width:54.00px;height:17.00px;background:#4a4563;box-shadow:inset 0 0 0 1px #5a5576;"></div><span class="t" style="left:277.05px;top:114.73px;font-size:10.0px;color:#dcdce6;transform:scaleX(0.8466757123473542);">Square</span><div style="left:346.00px;top:110.00px;width:54.00px;height:17.00px;background:#4a4563;box-shadow:inset 0 0 0 1px #5a5576;border-radius:9px;"></div><span class="t" style="left:359.55px;top:114.73px;font-size:10.0px;color:#dcdce6;transform:scaleX(0.8891717043164704);">Round</span><div style="left:406.00px;top:111.00px;width:16.00px;height:16.00px;background:#4a4563;box-shadow:inset 0 0 0 1px #5a5576;border-radius:8px;"></div><div style="left:428.00px;top:111.00px;width:16.00px;height:16.00px;background:#2c2b3b;box-shadow:inset 0 0 0 1px #3f3e52;border-radius:8px;"></div><div style="left:101.00px;top:135.00px;width:11.00px;height:11.00px;background:#2c2b3b;box-shadow:inset 0 0 0 1px #5a5970;border-radius:1.5px;"></div><span class="t" style="left:115.70px;top:136.73px;font-size:10.0px;color:#c8c8d4;transform:scaleX(0.8529336626075109);">Enabled</span><div style="left:183.00px;top:135.00px;width:11.00px;height:11.00px;background:#2c2b3b;box-shadow:inset 0 0 0 1px #3f3e52;border-radius:1.5px;"></div><span class="t" style="left:198.00px;top:136.73px;font-size:10.0px;color:#6f6e80;transform:scaleX(0.86);">Disabled</span><div style="left:265.00px;top:135.00px;width:11.00px;height:11.00px;background:#2c2b3b;box-shadow:inset 0 0 0 1px #5a5970;border-radius:1.5px;"></div><span class="t" style="left:279.70px;top:136.73px;font-size:10.0px;color:#c8c8d4;transform:scaleX(0.835173659907649);">Selected</span><div style="left:347.00px;top:135.00px;width:11.00px;height:11.00px;background:#2c2b3b;box-shadow:inset 0 0 0 1px #3f3e52;border-radius:1.5px;"></div><span class="t" style="left:361.50px;top:136.73px;font-size:10.0px;color:#6f6e80;transform:scaleX(0.870274335932861);">Selected disabled</span><span class="t" style="left:115.70px;top:157.23px;font-size:10.0px;color:#c8c8d4;transform:scaleX(0.8529336626075109);">Enabled</span><span class="t" style="left:198.00px;top:157.23px;font-size:10.0px;color:#6f6e80;transform:scaleX(0.86);">Disabled</span><span class="t" style="left:279.70px;top:157.23px;font-size:10.0px;color:#c8c8d4;transform:scaleX(0.835173659907649);">Selected</span><span class="t" style="left:361.50px;top:157.23px;font-size:10.0px;color:#6f6e80;transform:scaleX(0.870274335932861);">Selected disabled</span><div style="left:100.00px;top:175.00px;width:76.00px;height:17.00px;background:#3a384e;box-shadow:inset 0 0 0 1px #46445c;border-radius:2px;"></div><div style="left:160.00px;top:176.00px;width:15.00px;height:15.00px;background:#363549;"></div><div style="left:160.00px;top:176.00px;width:1.00px;height:15.00px;background:#46445c;"></div><span class="t" style="left:105.00px;top:179.23px;font-size:10.0px;color:#c8c8d4;transform:scaleX(0.8606390798633633);">Editable</span><div style="left:182.00px;top:175.00px;width:76.00px;height:17.00px;background:#2c2b3b;box-shadow:inset 0 0 0 1px #3f3e52;border-radius:2px;"></div><div style="left:242.00px;top:176.00px;width:15.00px;height:15.00px;background:#2c2b3b;"></div><div style="left:242.00px;top:176.00px;width:1.00px;height:15.00px;background:#3f3e52;"></div><span class="t" style="left:187.20px;top:179.23px;font-size:10.0px;color:#6f6e80;transform:scaleX(0.86);">Disabled</span><div style="left:264.00px;top:175.00px;width:76.00px;height:17.00px;background:#3a3950;box-shadow:inset 0 0 0 1px #46445c;border-radius:2px;"></div><span class="t" style="left:269.40px;top:179.23px;font-size:10.0px;color:#c8c8d4;transform:scaleX(0.9144463313228318);">Not editable</span><div style="left:346.00px;top:175.00px;width:112.00px;height:17.00px;background:#2c2b3b;box-shadow:inset 0 0 0 1px #3f3e52;border-radius:2px;"></div><span class="t" style="left:351.60px;top:179.23px;font-size:10.0px;color:#6f6e80;transform:scaleX(0.9037158488230078);">Not editable disabled</span><div style="left:100.00px;top:198.00px;width:76.00px;height:17.00px;background:#3a384e;box-shadow:inset 0 0 0 1px #46445c;border-radius:2px;"></div><div style="left:160.00px;top:199.00px;width:15.00px;height:15.00px;background:#363549;"></div><div style="left:160.00px;top:199.00px;width:1.00px;height:15.00px;background:#46445c;"></div><span class="t" style="left:149.62px;top:202.23px;font-size:10.0px;color:#c8c8d4;transform:scaleX(0.86);">0</span><div style="left:182.00px;top:198.00px;width:76.00px;height:17.00px;background:#2c2b3b;box-shadow:inset 0 0 0 1px #3f3e52;border-radius:2px;"></div><div style="left:242.00px;top:199.00px;width:15.00px;height:15.00px;background:#2c2b3b;"></div><div style="left:242.00px;top:199.00px;width:1.00px;height:15.00px;background:#3f3e52;"></div><span class="t" style="left:231.62px;top:202.23px;font-size:10.0px;color:#6f6e80;transform:scaleX(0.86);">0</span><div style="left:98.00px;top:220.00px;width:79.00px;height:20.00px;background:#3a384e;box-shadow:inset 0 0 0 2px #8b45b0;border-radius:1.5px;"></div><span class="t" style="left:105.10px;top:225.23px;font-size:10.0px;color:#c8c8d4;transform:scaleX(0.8606390798633633);">Editable</span><div style="left:136.20px;top:223.40px;width:1.20px;height:12.60px;background:#c4c4cc;"></div><div style="left:182.00px;top:221.00px;width:76.00px;height:17.00px;background:#2c2b3b;box-shadow:inset 0 0 0 1px #3f3e52;border-radius:2px;"></div><span class="t" style="left:187.20px;top:225.23px;font-size:10.0px;color:#6f6e80;transform:scaleX(0.86);">Disabled</span><div style="left:264.00px;top:221.00px;width:76.00px;height:17.00px;background:#2c2b3b;box-shadow:inset 0 0 0 1px #46445c;border-radius:2px;"></div><span class="t" style="left:269.20px;top:225.23px;font-size:10.0px;color:#c8c8d4;transform:scaleX(0.9144463313228318);">Not editable</span><div style="left:346.00px;top:221.00px;width:112.00px;height:17.00px;background:#2c2b3b;box-shadow:inset 0 0 0 1px #3f3e52;border-radius:2px;"></div><span class="t" style="left:351.20px;top:225.23px;font-size:10.0px;color:#6f6e80;transform:scaleX(0.9037158488230078);">Not editable disabled</span><div style="left:100.00px;top:244.00px;width:76.00px;height:17.00px;background:#3a384e;box-shadow:inset 0 0 0 1px #46445c;border-radius:2px;"></div><div style="left:182.00px;top:244.00px;width:76.00px;height:17.00px;background:#2c2b3b;box-shadow:inset 0 0 0 1px #3f3e52;border-radius:2px;"></div><div style="left:264.00px;top:244.00px;width:76.00px;height:17.00px;background:#2c2b3b;box-shadow:inset 0 0 0 1px #46445c;border-radius:2px;"></div><div style="left:346.00px;top:244.00px;width:112.00px;height:17.00px;background:#2c2b3b;box-shadow:inset 0 0 0 1px #3f3e52;border-radius:2px;"></div><div style="left:9.00px;top:276.00px;width:622.00px;height:1.00px;background:#44435a;"></div><div style="left:9.00px;top:284.00px;width:90.00px;height:17.00px;background:#3a3950;box-shadow:inset 0 0 0 1px #46445c;border-radius:2px;"></div><span class="t" style="left:14.90px;top:288.23px;font-size:10.0px;color:#c8c8d4;transform:scaleX(0.86);">Dark purple</span><div style="left:107.00px;top:286.00px;width:11.00px;height:11.00px;background:#2c2b3b;box-shadow:inset 0 0 0 1px #5a5970;border-radius:1.5px;"></div><span class="t" style="left:121.20px;top:288.23px;font-size:10.0px;color:#c8c8d4;transform:scaleX(0.9688409350989047);">right-to-left</span><div style="left:176.00px;top:286.00px;width:11.00px;height:11.00px;background:#2c2b3b;box-shadow:inset 0 0 0 1px #5a5970;border-radius:1.5px;"></div><span class="t" style="left:190.60px;top:288.23px;font-size:10.0px;color:#c8c8d4;transform:scaleX(0.8682824025289778);">enabled</span><span class="t" style="left:299.50px;top:288.23px;font-size:10.0px;color:#c8c8d4;transform:scaleX(0.8505195843325339);">(Java 1.8.0_202;  user scale factor 1.5; Segoe UI 18)</span><div style="left:575.00px;top:284.00px;width:56.00px;height:17.00px;background:#7b32a8;border-radius:2.5px;"></div><span class="t" style="left:591.40px;top:288.23px;font-size:10.0px;color:#ffffff;transform:scaleX(0.8116141619326332);font-weight:bold;">Close</span><div style="left:0.00px;top:0.00px;width:640.00px;height:310.00px;box-shadow:inset 0 0 0 1px #363545;"></div><svg class="ov" width="640" height="310" viewBox="0 0 640 310"><path d="M9.6 14.8 V7.9 H12.6 M9.6 10.6 H12.1" fill="none" stroke="#fff4ea" stroke-width="1.5" /><path d="M13.6 10.4 V14.6 H15.9" fill="none" stroke="#fff4ea" stroke-width="1.3" /><path d="M553.2 11.6 H560.8" fill="none" stroke="#77768a" stroke-width="1" /><path d="M586.1 8.6 H593.3 V15.2 H586.1 Z" fill="none" stroke="#77768a" stroke-width="1" /><path d="M619 8.3 L626.5 15.5 M626.5 8.3 L619 15.5" fill="none" stroke="#77768a" stroke-width="1" /><path d="M23.6 37 H15 M18.6 33.4 L15 37 L18.6 40.6" fill="none" stroke="#d0d0da" stroke-width="1.7" /><path d="M34.4 37 H43 M39.4 33.4 L43 37 L39.4 40.6" fill="none" stroke="#d0d0da" stroke-width="1.7" /><path d="M62 33.6 m-1.6 0 a1.6 1.6 0 1 0 3.2 0 a1.6 1.6 0 1 0 -3.2 0" fill="none" stroke="#d0d0da" stroke-width="1.1" /><path d="M62 40.2 m-1.6 0 a1.6 1.6 0 1 0 3.2 0 a1.6 1.6 0 1 0 -3.2 0" fill="none" stroke="#d0d0da" stroke-width="1.1" /><path d="M63.3 34.8 L70 41.8 M63.3 39 L69.6 32.3" fill="none" stroke="#d0d0da" stroke-width="1.1" /><path d="M81 39 V32.2 H87.2" fill="none" stroke="#d0d0da" stroke-width="1.1" /><path d="M83.4 34.6 H89.3 V41 H83.4 Z" fill="#8a8a98" stroke="#d0d0da" stroke-width="1.2" /><path d="M101.8 33.2 H108.3 V40.9 H101.8 Z" fill="#2c2b3b" stroke="#d0d0da" stroke-width="1.3" /><path d="M103.6 31.6 H106.5 V33.6 H103.6 Z" fill="#d0d0da" /><path d="M134.9 35.4 A4.1 4.1 0 0 0 127.3 35.2 M127.1 38.4 A4.1 4.1 0 0 0 134.7 38.6" fill="none" stroke="#d0d0da" stroke-width="1.5" /><path d="M126 33.4 V36.8 H129.4 Z" fill="#d0d0da" /><path d="M136 40.6 V37.2 H132.6 Z" fill="#d0d0da" /><path d="M152.2 37 C153.9 32.9 160.1 32.9 161.8 37 C160.1 41.1 153.9 41.1 152.2 37 Z" fill="none" stroke="#d0d0da" stroke-width="1.6" /><path d="M157 37 m-1.25 0 a1.25 1.25 0 1 0 2.5 0 a1.25 1.25 0 1 0 -2.5 0" fill="#d0d0da" /><path d="M549 64.2 V68.8" fill="none" stroke="#d0d0da" stroke-width="1.4" /><path d="M545.9 68.1 H552.1 L549 71.2 Z" fill="#d0d0da" /><path d="M8 0C3.58 0 0 3.58 0 8c0 3.54 2.29 6.53 5.47 7.59.4.07.55-.17.55-.38 0-.19-.01-.82-.01-1.49-2.01.37-2.53-.49-2.69-.94-.09-.23-.48-.94-.82-1.13-.28-.15-.68-.52-.01-.53.63-.01 1.08.58 1.23.82.72 1.21 1.87.87 2.33.66.07-.52.28-.87.51-1.07-1.78-.2-3.640-.89-3.64-3.95 0-.87.31-1.59.82-2.15-.08-.2-.36-1.020.08-2.12 0 0 .67-.21 2.2.82.64-.18 1.32-.27 2-.27.68 0 1.36.09 2 .27 1.53-1.04 2.2-.82 2.2-.82.44 1.1.16 1.92.08 2.12.51.56.82 1.27.82 2.15 0 3.07-1.87 3.75-3.65 3.95.29.25.54.73.54 1.48 0 1.07-.01 1.93-.01 2.200 0 .21.15.46.55.38A8.013 8.013 0 0016 8c0-4.42-3.58-8-8-8z" fill="#f0f0f0" transform="translate(563.6 63.5) scale(0.67)"/><path d="M619.30 67.35 H625.70 L622.50 70.95 Z" fill="#e6e6ee" /><path d="M411.60 116.50 C411.60 114.10 416.50 114.10 416.50 116.60 C416.50 118.30 414.00 118.40 414.00 120.60" fill="none" stroke="#e6e6ee" stroke-width="1.3" /><path d="M413.25 121.60 h1.5 v1.5 h-1.5 Z" fill="#e6e6ee" /><path d="M434.10 116.50 C434.10 114.10 439.00 114.10 439.00 116.60 C439.00 118.30 436.50 118.40 436.50 120.60" fill="none" stroke="#5f5e72" stroke-width="1.3" /><path d="M435.75 121.60 h1.5 v1.5 h-1.5 Z" fill="#5f5e72" /><path d="M267.4 140.6 L269.6 142.9 L273.8 137.8" fill="none" stroke="#e6e6ee" stroke-width="1.4" /><path d="M349.4 140.6 L351.6 142.9 L355.8 137.8" fill="none" stroke="#6f6e80" stroke-width="1.3" /><circle cx="106.5" cy="161.6" r="5.1" fill="#2c2b3b" stroke="#5a5970" stroke-width="1"/><circle cx="188.5" cy="161.6" r="5.1" fill="#2c2b3b" stroke="#3f3e52" stroke-width="1"/><circle cx="270.5" cy="161.6" r="5.1" fill="#2c2b3b" stroke="#5a5970" stroke-width="1"/><circle cx="270.5" cy="161.6" r="1.9" fill="#e6e6ee"/><circle cx="352.5" cy="161.6" r="5.1" fill="#2c2b3b" stroke="#3f3e52" stroke-width="1"/><circle cx="352.5" cy="161.6" r="1.7" fill="#6f6e80"/><path d="M164.20 181.80 H170.60 L167.40 185.40 Z" fill="#e6e6ee" /><path d="M246.30 181.80 H252.70 L249.50 185.40 Z" fill="#4f4e62" /><path d="M328.30 181.80 H334.70 L331.50 185.40 Z" fill="#e6e6ee" /><path d="M446.30 181.80 H452.70 L449.50 185.40 Z" fill="#4f4e62" /><path d="M164.20 206.1 H170.60 L167.40 202.3 Z" fill="#e6e6ee" /><path d="M164.20 207.8 H170.60 L167.40 211.7 Z" fill="#e6e6ee" /><path d="M246.20 206.1 H252.60 L249.40 202.3 Z" fill="#4f4e62" /><path d="M246.20 207.8 H252.60 L249.40 211.7 Z" fill="#4f4e62" /><path d="M105.60 252 h2 v2 h-2 Z M109.12 252 h2 v2 h-2 Z M112.64 252 h2 v2 h-2 Z M116.16 252 h2 v2 h-2 Z M119.68 252 h2 v2 h-2 Z M123.20 252 h2 v2 h-2 Z M126.72 252 h2 v2 h-2 Z M130.24 252 h2 v2 h-2 Z " fill="#e6e6ee" /><path d="M187.40 252 h2 v2 h-2 Z M190.92 252 h2 v2 h-2 Z M194.44 252 h2 v2 h-2 Z M197.96 252 h2 v2 h-2 Z M201.48 252 h2 v2 h-2 Z M205.00 252 h2 v2 h-2 Z M208.52 252 h2 v2 h-2 Z M212.04 252 h2 v2 h-2 Z " fill="#8a8a98" /><path d="M269.50 252 h2 v2 h-2 Z M273.02 252 h2 v2 h-2 Z M276.54 252 h2 v2 h-2 Z M280.06 252 h2 v2 h-2 Z M283.58 252 h2 v2 h-2 Z M287.10 252 h2 v2 h-2 Z M290.62 252 h2 v2 h-2 Z M294.14 252 h2 v2 h-2 Z M297.66 252 h2 v2 h-2 Z M301.18 252 h2 v2 h-2 Z M304.70 252 h2 v2 h-2 Z M308.22 252 h2 v2 h-2 Z " fill="#e6e6ee" /><path d="M351.70 252 h2 v2 h-2 Z M355.22 252 h2 v2 h-2 Z M358.74 252 h2 v2 h-2 Z M362.26 252 h2 v2 h-2 Z M365.78 252 h2 v2 h-2 Z M369.30 252 h2 v2 h-2 Z M372.82 252 h2 v2 h-2 Z M376.34 252 h2 v2 h-2 Z M379.86 252 h2 v2 h-2 Z M383.38 252 h2 v2 h-2 Z M386.90 252 h2 v2 h-2 Z M390.42 252 h2 v2 h-2 Z M393.94 252 h2 v2 h-2 Z M397.46 252 h2 v2 h-2 Z M400.98 252 h2 v2 h-2 Z M404.50 252 h2 v2 h-2 Z M408.02 252 h2 v2 h-2 Z M411.54 252 h2 v2 h-2 Z M415.06 252 h2 v2 h-2 Z M418.58 252 h2 v2 h-2 Z M422.10 252 h2 v2 h-2 Z " fill="#8a8a98" /><path d="M87.70 290.20 H94.10 L90.90 293.80 Z" fill="#e6e6ee" /><path d="M178.4 291.6 L180.6 293.9 L184.8 288.8" fill="none" stroke="#e6e6ee" stroke-width="1.4" /></svg></div></body></html>
